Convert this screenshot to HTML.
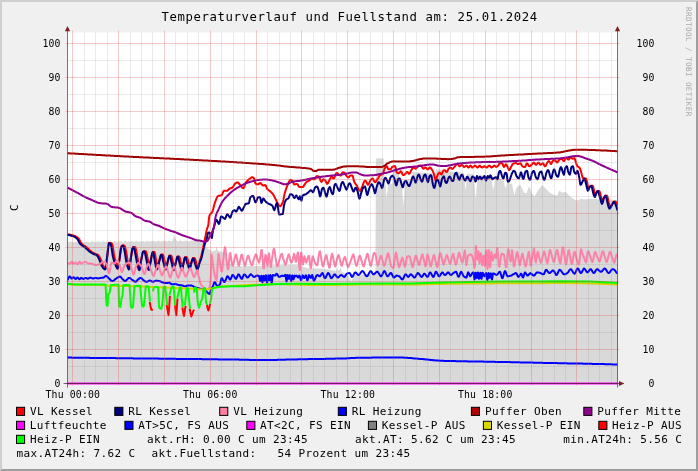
<!DOCTYPE html>
<html lang="de"><head><meta charset="utf-8"><title>Temperaturverlauf und Fuellstand</title>
<style>
html,body{margin:0;padding:0;background:#f0f0f0;}
body{width:698px;height:471px;overflow:hidden;}
svg{display:block;will-change:transform;}
text{font-family:"DejaVu Sans Mono","Liberation Mono",monospace;fill:#000;white-space:pre;}
.t{font-size:12.3px;letter-spacing:0.6px;}
.l{font-size:11px;letter-spacing:0.38px;}
.a{font-size:9.8px;letter-spacing:0.16px;}
.w{font-size:7.6px;letter-spacing:0.42px;fill:#a9a9a9;}
.ln{fill:none;stroke-width:2;stroke-linejoin:round;stroke-linecap:butt;}
</style></head><body>
<svg width="698" height="471" viewBox="0 0 698 471">
<rect x="0" y="0" width="698" height="471" fill="#f0f0f0"/>
<path d="M0 0H698L696 2H2V469L0 471Z" fill="#cfcfcf"/>
<path d="M698 471H0L2 469H696V2L698 0Z" fill="#9e9e9e"/>
<rect x="67" y="32.5" width="551" height="351" fill="#ffffff"/>
<defs><clipPath id="cv"><rect x="67.5" y="32.5" width="550" height="352.5"/></clipPath></defs>
<path d="M67.5 383.5L67.5 242.7L69.0 242.1L70.5 241.3L72.0 242.4L73.5 241.9L75.0 242.1L76.5 241.4L78.0 242.0L79.5 242.6L81.0 241.1L82.5 242.0L84.0 242.0L85.5 241.9L87.0 241.6L88.5 241.4L90.0 242.7L91.5 241.3L93.0 241.5L94.5 242.2L96.0 241.7L97.5 241.8L99.0 241.1L100.5 242.3L102.0 241.8L103.5 240.9L105.0 242.1L106.5 241.6L108.0 241.8L109.5 241.2L111.0 241.7L112.5 242.3L114.0 240.7L115.5 241.8L117.0 241.8L118.5 241.5L120.0 241.4L121.5 241.1L123.0 242.3L124.5 241.0L126.0 241.1L127.5 242.0L129.0 241.3L130.5 241.5L132.0 240.9L133.5 242.0L135.0 241.5L136.5 240.6L138.0 241.9L139.5 241.3L141.0 241.4L142.5 240.9L144.0 241.4L145.5 241.9L147.0 240.4L148.5 241.5L150.0 241.5L151.5 241.1L153.0 241.1L154.5 240.9L156.0 242.0L157.5 240.7L159.0 240.8L160.5 241.7L162.0 241.0L163.5 241.1L165.0 240.6L166.5 241.6L168.0 241.2L169.5 240.3L171.0 241.6L172.5 241.0L174.0 234.4L175.5 238.5L177.0 241.1L178.5 241.6L180.0 240.1L181.5 241.2L183.0 241.3L184.5 240.7L186.0 240.8L187.5 240.6L189.0 241.7L190.5 240.4L192.0 240.5L193.5 241.5L195.0 240.6L196.5 240.8L199.0 241.2L203.0 243.0L207.0 248.0L211.0 250.6L213.0 251.2L215.5 250.6L216.6 246.2L217.8 250.8L220.0 251.4L223.0 252.0L226.0 258.0L229.0 263.0L232.0 265.6L240.0 266.2L250.0 266.0L260.0 265.8L270.0 265.6L285.0 264.8L298.0 264.8L303.0 267.0L310.0 268.4L320.0 268.6L330.0 269.8L335.0 270.8L336.6 270.6L337.4 267.2L338.3 270.4L339.6 269.8L340.6 266.6L341.6 271.6L345.0 273.2L348.8 276.4L350.4 279.0L351.4 281.6L352.4 279.0L353.6 275.4L357.0 274.2L362.0 275.0L366.0 273.8L371.0 274.8L375.4 274.0L375.9 158.4L379.0 158.2L383.7 158.4L384.2 183.5L385.6 184.5L386.0 190.0L386.7 198.5L387.5 190.0L388.0 184.5L392.4 183.6L393.0 168.6L398.6 169.0L399.2 179.0L402.0 181.0L402.6 195.0L403.4 205.5L404.3 194.0L405.0 180.5L411.8 179.0L412.4 172.0L420.0 172.4L428.0 173.0L435.0 173.6L436.0 169.4L441.5 169.8L442.2 171.5L450.0 171.6L455.8 172.0L458.0 171.4L460.0 172.6L464.2 173.2L464.8 183.0L465.5 190.5L466.4 183.0L467.2 173.6L474.2 174.4L474.8 190.0L475.7 198.5L476.6 189.0L477.4 175.0L485.0 176.0L492.0 177.0L492.5 186.0L493.3 189.5L494.2 185.0L495.0 177.6L499.0 178.0L504.0 181.0L504.6 186.0L505.5 188.0L506.6 185.0L507.4 182.6L512.2 184.0L513.4 191.0L514.6 195.6L515.6 190.4L517.0 187.0L520.3 184.4L524.0 192.6L526.3 193.4L529.3 185.9L531.5 192.6L534.6 196.4L537.6 191.1L542.1 185.1L545.1 188.1L549.6 192.6L554.1 194.9L557.1 195.7L559.4 190.4L561.6 192.6L566.1 191.9L569.2 195.7L572.2 197.9L575.2 200.2L578.2 200.2L581.2 198.7L584.2 199.4L590.2 198.7L596.2 199.0L599.2 199.4L605.0 199.6L611.0 199.8L617.5 200.0L617.5 383.5Z" fill="#d9d9d9"/>
<g clip-path="url(#cv)"><path class="ln" d="M67.4 234.4L67.9 234.4L68.4 234.4L68.9 234.4L69.4 234.5L69.9 234.7L70.4 234.8L70.9 234.9L71.4 235.0L71.9 235.2L72.4 235.3L72.9 235.5L73.4 235.6L73.9 235.7L74.4 235.9L74.9 236.0L75.4 236.2L75.9 236.5L76.4 236.8L76.9 237.1L77.4 237.5L77.9 237.9L78.4 238.4L78.9 239.0L79.4 239.7L79.9 240.7L80.4 241.7L80.9 242.6L81.4 243.4L81.9 243.9L82.4 244.4L82.9 244.8L83.4 245.1L83.9 245.5L84.4 245.8L84.9 246.1L85.4 246.4L85.9 246.8L86.4 247.1L86.9 247.6L87.4 248.0L87.9 248.5L88.4 249.0L88.9 249.5L89.4 250.0L89.9 250.4L90.4 250.9L90.9 251.3L91.4 251.6L91.9 252.0L92.4 252.3L92.9 252.6L93.4 252.9L93.9 253.2L94.4 253.5L94.9 253.7L95.4 253.9L95.9 254.1L96.4 254.3L96.9 254.4L97.4 254.6L97.9 254.9L98.4 255.2L98.9 255.8L99.4 256.7L99.9 257.7L100.4 258.7L100.9 259.8L101.4 261.0L101.9 262.5L102.4 263.9L102.9 265.1L103.4 266.1L103.9 266.8L104.4 267.5L104.9 268.1L105.4 268.6L105.9 266.6L106.4 262.8L106.9 258.7L107.4 254.9L107.9 250.1L108.4 245.6L108.9 243.0L109.4 242.9L109.9 243.2L110.4 242.8L110.9 242.9L111.4 243.3L111.9 243.8L112.4 244.7L112.9 247.2L113.4 250.6L113.9 254.0L114.4 256.6L114.9 258.6L115.4 260.4L115.9 262.0L116.4 263.5L116.9 264.7L117.4 265.9L117.9 267.1L118.4 266.5L118.9 263.2L119.4 259.5L119.9 256.1L120.4 252.1L120.9 248.3L121.4 246.5L121.9 245.9L122.4 245.5L122.9 245.4L123.4 245.8L123.9 245.5L124.4 245.4L124.9 246.5L125.4 248.3L125.9 250.4L126.4 253.0L126.9 256.4L127.4 259.7L127.9 262.3L128.4 264.2L128.9 266.1L129.4 267.6L129.9 265.4L130.4 261.3L130.9 257.5L131.4 254.3L131.9 251.1L132.4 248.6L132.9 247.6L133.4 247.0L133.9 247.1L134.4 247.5L134.9 247.0L135.4 247.3L135.9 249.3L136.4 252.0L136.9 254.4L137.4 257.2L137.9 260.2L138.4 262.9L138.9 265.0L139.4 266.8L139.9 268.5L140.4 265.4L140.9 261.9L141.4 259.0L141.9 256.2L142.4 253.5L142.9 251.9L143.4 251.5L143.9 251.2L144.4 251.2L144.9 251.4L145.4 251.2L145.9 251.4L146.4 252.7L146.9 255.0L147.4 257.5L147.9 259.8L148.4 262.4L148.9 265.3L149.4 267.9L149.9 265.7L150.4 262.6L150.9 259.8L151.4 257.4L151.9 254.8L152.4 252.7L152.9 251.8L153.4 252.9L153.9 252.4L154.4 251.9L154.9 253.3L155.4 256.1L155.9 259.1L156.4 261.7L156.9 264.5L157.4 267.2L157.9 266.7L158.4 264.6L158.9 262.5L159.4 260.7L159.9 258.6L160.4 256.5L160.9 254.8L161.4 254.5L161.9 255.5L162.4 254.6L162.9 254.6L163.4 255.9L163.9 258.0L164.4 260.3L164.9 262.3L165.4 264.1L165.9 266.1L166.4 267.9L166.9 265.5L167.4 262.9L167.9 260.8L168.4 258.8L168.9 256.9L169.4 255.6L169.9 255.6L170.4 256.5L170.9 255.5L171.4 255.8L171.9 257.4L172.4 259.7L172.9 261.9L173.4 263.9L173.9 266.1L174.4 268.2L174.9 266.5L175.4 264.1L175.9 262.1L176.4 259.9L176.9 257.9L177.4 256.5L177.9 256.5L178.4 257.5L178.9 256.4L179.4 256.7L179.9 258.3L180.4 260.5L180.9 262.7L181.4 264.4L181.9 266.4L182.4 268.2L182.9 266.3L183.4 263.6L183.9 261.4L184.4 258.9L184.9 257.2L185.4 257.2L185.9 258.2L186.4 257.1L186.9 257.3L187.4 258.5L187.9 260.2L188.4 262.1L188.9 263.6L189.4 265.0L189.9 266.6L190.4 266.7L190.9 264.4L191.4 262.5L191.9 260.8L192.4 259.2L192.9 258.1L193.4 258.2L193.9 258.9L194.4 258.1L194.9 258.4L195.4 259.8L195.9 261.7L196.4 263.5L196.9 265.0L197.4 270.1L197.9 269.1L198.4 266.9L198.9 264.2L199.4 262.1L199.9 260.4L200.4 258.8L200.9 257.2L201.4 255.4L201.9 253.3L202.4 251.1L202.9 248.9L203.4 246.5L203.9 244.0L204.4 241.5L204.9 238.9L205.4 236.5L205.9 234.0L206.4 231.6L206.9 229.4L207.4 227.8L207.9 226.6L208.4 224.6L208.9 218.9L209.4 215.9L209.9 214.8L210.4 214.0L210.9 213.5L211.4 213.0L211.9 212.3L212.4 211.4L212.9 210.0L213.4 208.2L213.9 206.2L214.4 204.2L214.9 202.6L215.4 201.3L215.9 200.0L216.4 198.7L216.9 197.6L217.4 196.7L217.9 196.1L218.4 195.9L218.9 195.8L219.4 195.7L219.9 195.6L220.4 195.6L220.9 195.5L221.4 195.3L221.9 194.8L222.4 193.7L222.9 192.5L223.4 191.4L223.9 190.8L224.4 190.8L224.9 190.8L225.4 190.8L225.9 190.8L226.4 190.8L226.9 190.8L227.4 190.8L227.9 190.3L228.4 189.7L228.9 189.1L229.4 188.7L229.9 188.5L230.4 188.3L230.9 188.2L231.4 188.0L231.9 187.8L232.4 187.6L232.9 187.0L233.4 186.2L233.9 185.3L234.4 184.4L234.9 183.8L235.4 183.4L235.9 183.0L236.4 182.7L236.9 182.5L237.4 182.4L237.9 182.5L238.4 182.9L238.9 183.5L239.4 184.1L239.9 184.7L240.4 185.3L240.9 185.9L241.4 186.6L241.9 187.2L242.4 187.7L242.9 188.1L243.4 188.2L243.9 187.7L244.4 186.5L244.9 185.0L245.4 183.5L245.9 182.5L246.4 181.8L246.9 181.2L247.4 180.7L247.9 180.2L248.4 179.8L248.9 179.4L249.4 179.0L249.9 178.6L250.4 178.2L250.9 177.8L251.4 177.5L251.9 177.3L252.4 177.2L252.9 177.4L253.4 177.7L253.9 178.3L254.4 179.9L254.9 182.0L255.4 183.5L255.9 183.8L256.4 184.0L256.9 184.2L257.4 184.3L257.9 184.3L258.4 184.3L258.9 183.9L259.4 183.4L259.9 183.1L260.4 183.1L260.9 183.4L261.4 184.0L261.9 184.5L262.4 185.1L262.9 185.5L263.4 185.6L263.9 185.5L264.4 185.3L264.9 185.0L265.4 185.0L265.9 185.8L266.4 187.1L266.9 188.3L267.4 189.1L267.9 189.6L268.4 190.0L268.9 190.4L269.4 190.7L269.9 191.1L270.4 191.5L270.9 191.9L271.4 192.4L271.9 193.0L272.4 193.6L272.9 194.2L273.4 194.9L273.9 195.7L274.4 196.7L274.9 197.7L275.4 198.8L275.9 199.8L276.4 200.8L276.9 201.7L277.4 202.7L277.9 203.7L278.4 204.6L278.9 205.4L279.4 205.9L279.9 206.2L280.4 206.2L280.9 205.8L281.4 205.0L281.9 204.1L282.4 203.0L282.9 201.8L283.4 199.7L283.9 197.1L284.4 194.6L284.9 192.7L285.4 191.0L285.9 189.4L286.4 187.9L286.9 186.6L287.4 185.4L287.9 184.2L288.4 183.0L288.9 181.9L289.4 180.9L289.9 180.3L290.4 180.0L290.9 180.0L291.4 180.2L291.9 180.4L292.4 180.6L292.9 181.4L293.4 182.8L293.9 184.0L294.4 184.5L294.9 184.4L295.4 184.3L295.9 184.1L296.4 183.9L296.9 183.9L297.4 184.1L297.9 184.9L298.4 185.8L298.9 186.6L299.4 187.1L299.9 187.1L300.4 187.1L300.9 187.1L301.4 187.1L301.9 187.1L302.4 187.1L302.9 187.0L303.4 186.6L303.9 185.7L304.4 184.9L304.9 184.2L305.4 183.4L305.9 182.7L306.4 182.1L306.9 181.7L307.4 181.4L307.9 181.2L308.4 181.0L308.9 180.8L309.4 180.5L309.9 180.0L310.4 179.5L310.9 179.1L311.4 178.8L311.9 178.7L312.4 178.8L312.9 179.0L313.4 179.2L313.9 179.3L314.4 179.3L314.9 178.9L315.4 178.1L315.9 177.2L316.4 176.4L316.9 176.1L317.4 176.2L317.9 176.3L318.4 176.5L318.9 176.8L319.4 177.6L319.9 178.9L320.4 180.3L320.9 181.4L321.4 181.9L321.9 181.5L322.4 180.6L322.9 179.7L323.4 179.3L323.9 179.5L324.4 179.8L324.9 180.3L325.4 180.8L325.9 181.7L326.4 182.8L326.9 183.7L327.4 183.8L327.9 183.3L328.4 182.3L328.9 181.2L329.4 180.1L329.9 179.2L330.4 178.3L330.9 177.5L331.4 176.9L331.9 176.8L332.4 177.3L332.9 178.0L333.4 178.6L333.9 178.5L334.4 177.5L334.9 175.9L335.4 174.5L335.9 173.8L336.4 173.2L336.9 172.9L337.4 173.2L337.9 173.8L338.4 174.5L338.9 174.9L339.4 175.1L339.9 175.3L340.4 175.4L340.9 175.4L341.4 174.6L341.9 173.4L342.4 172.4L342.9 172.3L343.4 172.4L343.9 172.5L344.4 172.8L344.9 173.1L345.4 174.0L345.9 175.1L346.4 175.9L346.9 176.4L347.4 176.9L347.9 177.2L348.4 177.4L348.9 177.2L349.4 176.5L349.9 175.8L350.4 175.5L350.9 175.5L351.4 175.5L351.9 175.5L352.4 175.5L352.9 176.5L353.4 178.5L353.9 180.7L354.4 182.1L354.9 183.0L355.4 183.7L355.9 184.4L356.4 185.0L356.9 185.8L357.4 186.8L357.9 187.9L358.4 189.0L358.9 189.8L359.4 190.4L359.9 190.9L360.4 190.8L360.9 189.9L361.4 188.6L361.9 187.4L362.4 186.2L362.9 184.8L363.4 183.4L363.9 182.1L364.4 181.1L364.9 180.6L365.4 180.8L365.9 181.3L366.4 182.0L366.9 182.8L367.4 184.1L367.9 184.8L368.4 184.5L368.9 183.6L369.4 182.5L369.9 181.3L370.4 180.4L370.9 179.7L371.4 179.1L371.9 178.6L372.4 178.4L372.9 178.7L373.4 179.6L373.9 180.8L374.4 181.7L374.9 182.2L375.4 182.1L375.9 181.6L376.4 180.9L376.9 180.0L377.4 179.2L377.9 178.5L378.4 177.7L378.9 176.8L379.4 176.0L379.9 175.4L380.4 175.0L380.9 174.7L381.4 174.5L381.9 174.4L382.4 174.1L382.9 173.6L383.4 172.4L383.9 170.8L384.4 169.3L384.9 168.3L385.4 167.3L385.9 166.6L386.4 166.2L386.9 166.3L387.4 167.3L387.9 168.6L388.4 169.3L388.9 169.3L389.4 169.3L389.9 169.3L390.4 169.3L390.9 169.0L391.4 168.2L391.9 167.3L392.4 166.8L392.9 166.6L393.4 166.4L393.9 166.2L394.4 166.2L394.9 166.1L395.4 166.9L395.9 169.0L396.4 171.3L396.9 172.6L397.4 172.8L397.9 173.0L398.4 173.2L398.9 173.2L399.4 172.8L399.9 172.1L400.4 171.5L400.9 171.3L401.4 171.8L401.9 172.8L402.4 174.0L402.9 174.8L403.4 175.1L403.9 175.0L404.4 174.6L404.9 174.2L405.4 173.8L405.9 173.2L406.4 172.5L406.9 172.0L407.4 172.0L407.9 172.5L408.4 173.2L408.9 173.8L409.4 173.8L409.9 173.1L410.4 172.1L410.9 170.9L411.4 169.9L411.9 169.1L412.4 168.5L412.9 167.8L413.4 167.5L413.9 167.5L414.4 167.8L414.9 168.3L415.4 168.7L415.9 168.6L416.4 168.2L416.9 167.5L417.4 166.8L417.9 166.3L418.4 166.0L418.9 165.8L419.4 165.7L419.9 165.6L420.4 165.5L420.9 165.5L421.4 166.0L421.9 166.8L422.4 167.7L422.9 168.4L423.4 168.7L423.9 168.4L424.4 168.0L424.9 167.5L425.4 167.4L425.9 167.7L426.4 168.2L426.9 168.7L427.4 169.2L427.9 169.3L428.4 169.0L428.9 168.3L429.4 167.6L429.9 167.4L430.4 167.7L430.9 168.2L431.4 168.9L431.9 169.6L432.4 170.4L432.9 171.4L433.4 172.6L433.9 174.0L434.4 176.3L434.9 178.7L435.4 180.2L435.9 180.0L436.4 178.7L436.9 176.9L437.4 175.4L437.9 174.5L438.4 173.6L438.9 172.9L439.4 172.6L439.9 172.8L440.4 173.5L440.9 174.2L441.4 174.5L441.9 173.9L442.4 172.6L442.9 171.3L443.4 170.6L443.9 170.3L444.4 170.2L444.9 170.2L445.4 170.8L445.9 171.5L446.4 172.0L446.9 171.9L447.4 171.1L447.9 169.9L448.4 169.0L448.9 168.5L449.4 168.1L449.9 167.7L450.4 167.6L450.9 167.7L451.4 168.2L451.9 168.6L452.4 168.9L452.9 168.6L453.4 168.1L453.9 167.4L454.4 166.9L454.9 166.3L455.4 165.6L455.9 165.0L456.4 164.4L456.9 163.9L457.4 163.7L457.9 163.9L458.4 164.7L458.9 165.7L459.4 166.3L459.9 166.2L460.4 165.9L460.9 165.5L461.4 165.2L461.9 165.0L462.4 165.1L462.9 165.7L463.4 166.5L463.9 166.9L464.4 166.8L464.9 166.6L465.4 166.2L465.9 165.9L466.4 165.7L466.9 165.8L467.4 166.4L467.9 167.1L468.4 167.5L468.9 167.4L469.4 166.7L469.9 166.0L470.4 165.6L470.9 165.9L471.4 166.6L471.9 167.3L472.4 167.6L472.9 167.4L473.4 166.9L473.9 166.4L474.4 165.9L474.9 165.6L475.4 165.8L475.9 166.2L476.4 166.8L476.9 167.3L477.4 167.5L477.9 167.4L478.4 166.8L478.9 166.1L479.4 165.6L479.9 165.8L480.4 166.2L480.9 166.7L481.4 167.2L481.9 167.5L482.4 167.5L482.9 167.2L483.4 166.9L483.9 166.5L484.4 166.3L484.9 166.3L485.4 166.7L485.9 167.2L486.4 167.5L486.9 167.5L487.4 167.1L487.9 166.6L488.4 166.0L488.9 165.7L489.4 165.7L489.9 166.0L490.4 166.5L490.9 167.1L491.4 167.5L491.9 167.5L492.4 167.2L492.9 166.7L493.4 166.2L493.9 165.8L494.4 165.6L494.9 165.9L495.4 166.4L495.9 166.8L496.4 166.9L496.9 166.7L497.4 166.4L497.9 165.9L498.4 165.4L498.9 164.4L499.4 163.7L499.9 163.5L500.4 163.3L500.9 163.2L501.4 163.1L501.9 163.1L502.4 163.4L502.9 164.6L503.4 166.1L503.9 166.9L504.4 166.6L504.9 165.7L505.4 164.8L505.9 164.3L506.4 164.7L506.9 165.5L507.4 166.6L507.9 167.7L508.4 168.9L508.9 170.0L509.4 170.0L509.9 169.3L510.4 168.3L510.9 167.2L511.4 166.3L511.9 165.3L512.4 164.4L512.9 163.8L513.4 163.5L513.9 163.3L514.4 163.2L514.9 163.1L515.4 163.1L515.9 163.1L516.4 163.3L516.9 163.6L517.4 163.9L517.9 164.1L518.4 164.0L518.9 163.8L519.4 163.6L519.9 163.4L520.4 163.3L520.9 163.8L521.4 164.7L521.9 165.6L522.4 166.2L522.9 166.5L523.4 166.8L523.9 166.9L524.4 167.0L524.9 167.0L525.4 166.4L525.9 165.2L526.4 164.0L526.9 163.4L527.4 163.5L527.9 164.3L528.4 165.3L528.9 166.1L529.4 166.3L529.9 166.2L530.4 165.8L530.9 165.4L531.4 164.9L531.9 164.5L532.4 163.8L532.9 163.2L533.4 162.7L533.9 162.6L534.4 163.0L534.9 163.6L535.4 164.4L535.9 164.8L536.4 164.7L536.9 164.1L537.4 163.4L537.9 162.8L538.4 162.6L538.9 162.9L539.4 163.6L539.9 164.3L540.4 164.8L540.9 164.7L541.4 164.4L541.9 163.9L542.4 163.5L542.9 163.3L543.4 163.8L543.9 164.7L544.4 165.7L544.9 166.3L545.4 166.2L545.9 165.4L546.4 164.4L546.9 163.3L547.4 162.5L547.9 161.8L548.4 161.3L548.9 161.1L549.4 161.5L549.9 162.4L550.4 163.4L550.9 164.0L551.4 163.8L551.9 162.5L552.4 161.3L552.9 160.9L553.4 160.6L553.9 160.5L554.4 160.3L554.9 160.3L555.4 160.6L555.9 161.3L556.4 162.0L556.9 162.5L557.4 162.5L557.9 161.8L558.4 160.9L558.9 160.1L559.4 159.5L559.9 159.3L560.4 159.1L560.9 158.9L561.4 158.8L561.9 158.9L562.4 159.4L562.9 160.1L563.4 160.8L563.9 161.1L564.4 160.7L564.9 159.8L565.4 158.8L565.9 158.2L566.4 158.1L566.9 158.4L567.4 158.9L567.9 159.4L568.4 159.6L568.9 159.3L569.4 158.6L569.9 157.9L570.4 157.4L570.9 157.3L571.4 157.7L571.9 158.2L572.4 158.6L572.9 158.8L573.4 158.6L573.9 158.3L574.4 158.1L574.9 158.9L575.4 160.7L575.9 162.5L576.4 163.9L576.9 165.3L577.4 166.3L577.9 166.7L578.4 167.0L578.9 167.2L579.4 167.6L579.9 168.2L580.4 169.6L580.9 171.3L581.4 173.1L581.9 175.1L582.4 176.9L582.9 178.0L583.4 178.8L583.9 178.8L584.4 178.4L584.9 178.6L585.4 178.6L585.9 178.5L586.4 179.6L586.9 181.8L587.4 184.0L587.9 186.1L588.4 188.3L588.9 188.6L589.4 187.3L589.9 186.6L590.4 186.1L590.9 185.7L591.4 185.8L591.9 186.0L592.4 185.7L592.9 185.9L593.4 187.7L593.9 190.1L594.4 192.2L594.9 194.2L595.4 195.0L595.9 194.3L596.4 192.7L596.9 191.7L597.4 191.0L597.9 190.9L598.4 191.1L598.9 190.9L599.4 191.0L599.9 192.3L600.4 194.1L600.9 196.1L601.4 197.8L601.9 199.7L602.4 201.6L602.9 201.7L603.4 199.3L603.9 197.8L604.4 196.8L604.9 195.9L605.4 195.6L605.9 195.7L606.4 195.8L606.9 195.6L607.4 196.5L607.9 198.5L608.4 200.9L608.9 203.0L609.4 204.9L609.9 206.9L610.4 207.5L610.9 206.5L611.4 205.6L611.9 204.8L612.4 203.9L612.9 202.9L613.4 202.0L613.9 201.6L614.4 201.7L614.9 201.9L615.4 201.6L615.9 201.9L616.4 203.0L616.9 204.3L617.2 205.1" stroke="#ff0000" stroke-width="2"/><path class="ln" d="M67.4 234.7L67.9 234.8L68.4 234.9L68.9 235.0L69.4 235.1L69.9 235.3L70.4 235.4L70.9 235.5L71.4 235.7L71.9 235.8L72.4 236.0L72.9 236.1L73.4 236.3L73.9 236.5L74.4 236.7L74.9 237.0L75.4 237.3L75.9 237.7L76.4 238.1L76.9 238.6L77.4 239.1L77.9 239.8L78.4 240.7L78.9 241.8L79.4 242.7L79.9 243.5L80.4 244.1L80.9 244.5L81.4 245.0L81.9 245.3L82.4 245.7L82.9 246.0L83.4 246.3L83.9 246.6L84.4 247.0L84.9 247.3L85.4 247.7L85.9 248.2L86.4 248.7L86.9 249.1L87.4 249.6L87.9 250.1L88.4 250.6L88.9 251.0L89.4 251.5L89.9 251.8L90.4 252.2L90.9 252.5L91.4 252.8L91.9 253.1L92.4 253.4L92.9 253.7L93.4 253.9L93.9 254.2L94.4 254.3L94.9 254.5L95.4 254.6L95.9 254.8L96.4 255.1L96.9 255.4L97.4 255.9L97.9 256.8L98.4 257.7L98.9 258.8L99.4 259.9L99.9 261.1L100.4 262.5L100.9 263.9L101.4 265.2L101.9 266.2L102.4 266.9L102.9 267.6L103.4 268.3L103.9 268.8L104.4 269.2L104.9 269.4L105.4 269.2L105.9 266.8L106.4 262.9L106.9 258.8L107.4 255.0L107.9 250.2L108.4 245.8L108.9 243.2L109.4 243.1L109.9 243.4L110.4 243.9L110.9 244.7L111.4 246.9L111.9 250.3L112.4 253.7L112.9 256.5L113.4 258.5L113.9 260.4L114.4 262.0L114.9 263.5L115.4 264.8L115.9 265.9L116.4 267.1L116.9 268.1L117.4 268.7L117.9 268.6L118.4 266.6L118.9 263.3L119.4 259.6L119.9 256.2L120.4 252.2L120.9 248.5L121.4 246.8L121.9 246.2L122.4 245.8L122.9 245.6L123.4 246.5L123.9 248.2L124.4 250.3L124.9 252.7L125.4 256.0L125.9 259.5L126.4 262.2L126.9 264.1L127.4 266.0L127.9 267.7L128.4 268.9L128.9 269.5L129.4 268.7L129.9 265.6L130.4 261.4L130.9 257.6L131.4 254.5L131.9 251.3L132.4 248.8L132.9 247.8L133.4 247.3L133.9 247.4L134.4 249.2L134.9 251.8L135.4 254.2L135.9 257.0L136.4 259.9L136.9 262.7L137.4 264.9L137.9 266.7L138.4 268.5L138.9 269.7L139.4 270.1L139.9 268.6L140.4 265.6L140.9 262.1L141.4 259.2L141.9 256.3L142.4 253.7L142.9 252.1L143.4 251.7L143.9 251.5L144.4 251.5L144.9 252.7L145.4 254.8L145.9 257.3L146.4 259.7L146.9 262.1L147.4 265.1L147.9 267.8L148.4 269.7L148.9 270.0L149.4 268.5L149.9 265.8L150.4 262.7L150.9 260.0L151.4 257.6L151.9 255.0L152.4 252.9L152.9 252.1L153.4 253.2L153.9 255.8L154.4 258.9L154.9 261.5L155.4 264.2L155.9 267.0L156.4 269.0L156.9 269.4L157.4 268.6L157.9 266.9L158.4 264.8L158.9 262.7L159.4 260.8L159.9 258.8L160.4 256.6L160.9 255.1L161.4 254.7L161.9 255.8L162.4 257.8L162.9 260.2L163.4 262.2L163.9 264.0L164.4 266.1L164.9 267.9L165.4 269.2L165.9 269.4L166.4 268.1L166.9 265.6L167.4 263.0L167.9 261.0L168.4 259.0L168.9 257.1L169.4 255.9L169.9 255.9L170.4 257.3L170.9 259.5L171.4 261.8L171.9 263.8L172.4 266.0L172.9 268.2L173.4 269.7L173.9 270.1L174.4 268.8L174.9 266.6L175.4 264.2L175.9 262.3L176.4 260.1L176.9 258.1L177.4 256.8L177.9 256.8L178.4 258.2L178.9 260.4L179.4 262.6L179.9 264.4L180.4 266.3L180.9 268.1L181.4 269.6L181.9 270.1L182.4 269.0L182.9 266.5L183.4 263.8L183.9 261.5L184.4 259.1L184.9 257.4L185.4 257.4L185.9 258.5L186.4 260.2L186.9 262.0L187.4 263.6L187.9 265.0L188.4 266.6L188.9 267.9L189.4 268.7L189.9 268.5L190.4 266.8L190.9 264.6L191.4 262.7L191.9 261.0L192.4 259.4L192.9 258.4L193.4 258.5L193.9 259.8L194.4 261.6L194.9 263.5L195.4 265.0L195.9 266.5L196.4 268.0L196.9 269.1L197.4 269.5L197.9 268.7L198.4 267.0L198.9 265.0L199.4 263.4L199.9 262.2L200.4 261.0L200.9 259.7L201.4 258.2L201.9 256.3L202.4 254.1L202.9 251.9L203.4 249.8L203.9 247.7L204.4 245.6L204.9 243.7L205.4 242.2L205.9 241.0L206.4 239.8L206.9 238.4L207.4 235.6L207.9 233.1L208.4 232.7L208.9 232.5L209.4 232.6L209.9 233.1L210.4 233.9L210.9 235.4L211.4 237.6L211.9 237.9L212.4 234.1L212.9 231.2L213.4 229.1L213.9 227.2L214.4 225.5L214.9 223.7L215.4 221.9L215.9 220.5L216.4 219.8L216.9 220.2L217.4 221.2L217.9 222.2L218.4 223.2L218.9 224.0L219.4 223.3L219.9 221.0L220.4 218.9L220.9 216.8L221.4 216.4L221.9 216.6L222.4 217.0L222.9 217.4L223.4 217.8L223.9 218.2L224.4 218.6L224.9 218.9L225.4 218.5L225.9 217.0L226.4 215.7L226.9 214.5L227.4 214.2L227.9 214.8L228.4 215.5L228.9 216.2L229.4 216.9L229.9 217.5L230.4 217.5L230.9 216.3L231.4 214.8L231.9 213.3L232.4 211.9L232.9 211.1L233.4 210.7L233.9 210.4L234.4 210.3L234.9 210.5L235.4 211.0L235.9 211.5L236.4 211.5L236.9 210.7L237.4 209.6L237.9 208.5L238.4 207.3L238.9 206.9L239.4 207.3L239.9 208.1L240.4 208.9L240.9 209.7L241.4 210.5L241.9 210.7L242.4 210.3L242.9 209.3L243.4 208.1L243.9 207.1L244.4 206.1L244.9 204.9L245.4 204.1L245.9 203.8L246.4 203.7L246.9 203.7L247.4 203.6L247.9 203.6L248.4 203.5L248.9 203.2L249.4 201.3L249.9 198.8L250.4 197.3L250.9 196.8L251.4 196.5L251.9 196.2L252.4 196.0L252.9 195.9L253.4 196.3L253.9 197.7L254.4 199.6L254.9 201.3L255.4 202.3L255.9 202.2L256.4 201.2L256.9 199.7L257.4 198.3L257.9 197.4L258.4 197.2L258.9 197.2L259.4 197.2L259.9 197.2L260.4 198.0L260.9 201.2L261.4 203.0L261.9 202.3L262.4 200.6L262.9 199.1L263.4 198.5L263.9 199.0L264.4 199.8L264.9 200.6L265.4 201.2L265.9 201.7L266.4 202.2L266.9 202.6L267.4 203.0L267.9 203.3L268.4 203.6L268.9 203.9L269.4 204.1L269.9 204.3L270.4 204.5L270.9 204.7L271.4 205.0L271.9 205.3L272.4 205.7L272.9 206.8L273.4 208.4L273.9 209.7L274.4 210.1L274.9 209.1L275.4 207.3L275.9 205.3L276.4 203.6L276.9 203.0L277.4 204.3L277.9 207.2L278.4 210.5L278.9 213.3L279.4 214.6L279.9 214.6L280.4 214.4L280.9 214.3L281.4 214.1L281.9 214.0L282.4 214.1L282.9 213.8L283.4 210.0L283.9 205.7L284.4 203.7L284.9 202.1L285.4 200.9L285.9 200.0L286.4 199.5L286.9 199.2L287.4 198.9L287.9 198.6L288.4 198.2L288.9 197.4L289.4 196.1L289.9 194.8L290.4 194.2L290.9 194.2L291.4 194.3L291.9 194.6L292.4 194.8L292.9 195.5L293.4 196.7L293.9 197.7L294.4 198.0L294.9 197.5L295.4 196.5L295.9 195.7L296.4 195.5L296.9 196.1L297.4 197.1L297.9 198.2L298.4 199.0L298.9 199.3L299.4 198.0L299.9 196.4L300.4 196.6L300.9 199.0L301.4 200.6L301.9 199.1L302.4 196.3L302.9 195.3L303.4 195.0L303.9 194.8L304.4 194.7L304.9 194.5L305.4 194.4L305.9 194.2L306.4 193.9L306.9 193.5L307.4 193.1L307.9 192.7L308.4 192.3L308.9 191.9L309.4 191.4L309.9 190.9L310.4 190.5L310.9 190.3L311.4 190.4L311.9 191.0L312.4 191.8L312.9 192.2L313.4 191.8L313.9 190.5L314.4 188.9L314.9 187.8L315.4 187.3L315.9 186.8L316.4 186.5L316.9 186.4L317.4 186.9L317.9 188.0L318.4 189.6L318.9 191.2L319.4 193.9L319.9 196.4L320.4 196.3L320.9 194.2L321.4 191.5L321.9 189.3L322.4 188.5L322.9 187.9L323.4 187.7L323.9 188.6L324.4 190.3L324.9 192.3L325.4 193.9L325.9 195.5L326.4 196.7L326.9 196.2L327.4 194.1L327.9 191.4L328.4 189.2L328.9 188.2L329.4 187.3L329.9 187.1L330.4 188.3L330.9 190.2L331.4 192.1L331.9 193.1L332.4 193.8L332.9 194.2L333.4 192.5L333.9 188.1L334.4 185.5L334.9 184.5L335.4 183.9L335.9 184.0L336.4 185.0L336.9 186.3L337.4 187.5L337.9 188.5L338.4 189.6L338.9 190.5L339.4 190.9L339.9 190.2L340.4 188.0L340.9 185.5L341.4 183.8L341.9 182.8L342.4 182.1L342.9 182.0L343.4 182.8L343.9 184.0L344.4 185.3L344.9 186.4L345.4 187.7L345.9 188.9L346.4 189.6L346.9 189.3L347.4 187.8L347.9 186.0L348.4 184.6L348.9 183.9L349.4 183.4L349.9 183.3L350.4 184.0L350.9 185.4L351.4 187.0L351.9 188.2L352.4 189.5L352.9 190.7L353.4 191.5L353.9 191.4L354.4 190.3L354.9 188.8L355.4 187.8L355.9 187.9L356.4 188.5L356.9 189.5L357.4 190.7L357.9 192.4L358.4 195.0L358.9 197.5L359.4 198.7L359.9 198.0L360.4 196.2L360.9 193.9L361.4 192.2L361.9 190.8L362.4 189.4L362.9 188.3L363.4 187.6L363.9 187.1L364.4 186.6L364.9 186.4L365.4 187.5L365.9 189.8L366.4 192.2L366.9 194.5L367.4 195.0L367.9 193.7L368.4 191.6L368.9 189.5L369.4 188.1L369.9 186.9L370.4 185.8L370.9 184.9L371.4 184.3L371.9 184.2L372.4 185.0L372.9 186.3L373.4 187.8L373.9 189.5L374.4 191.7L374.9 193.2L375.4 192.5L375.9 190.5L376.4 188.0L376.9 186.1L377.4 184.8L377.9 183.5L378.4 182.5L378.9 182.2L379.4 182.6L379.9 183.2L380.4 184.1L380.9 185.1L381.4 186.7L381.9 187.9L382.4 187.5L382.9 185.5L383.4 182.8L383.9 180.6L384.4 179.2L384.9 178.1L385.4 177.7L385.9 178.2L386.4 179.2L386.9 180.3L387.4 181.3L387.9 182.6L388.4 183.5L388.9 183.0L389.4 181.3L389.9 179.3L390.4 177.8L390.9 177.0L391.4 176.4L391.9 175.9L392.4 175.8L392.9 176.0L393.4 176.7L393.9 177.6L394.4 178.6L394.9 180.5L395.4 183.0L395.9 185.0L396.4 185.4L396.9 183.9L397.4 181.5L397.9 179.5L398.4 178.8L398.9 178.5L399.4 178.4L399.9 178.8L400.4 180.1L400.9 181.9L401.4 183.5L401.9 185.3L402.4 187.0L402.9 187.2L403.4 185.8L403.9 183.7L404.4 182.0L404.9 181.4L405.4 181.1L405.9 180.9L406.4 181.4L406.9 182.6L407.4 183.9L407.9 184.9L408.4 185.6L408.9 186.0L409.4 186.0L409.9 185.0L410.4 183.6L410.9 182.1L411.4 180.6L411.9 178.9L412.4 177.3L412.9 176.5L413.4 176.7L413.9 177.8L414.4 179.3L414.9 180.8L415.4 182.6L415.9 182.5L416.4 180.8L416.9 178.6L417.4 176.7L417.9 175.6L418.4 174.8L418.9 174.5L419.4 175.4L419.9 177.1L420.4 178.8L420.9 180.0L421.4 180.9L421.9 181.6L422.4 181.1L422.9 179.4L423.4 177.4L423.9 175.9L424.4 175.2L424.9 174.6L425.4 174.6L425.9 175.6L426.4 177.4L426.9 179.3L427.4 181.1L427.9 182.2L428.4 181.0L428.9 178.7L429.4 176.6L429.9 175.7L430.4 175.3L430.9 175.2L431.4 175.8L431.9 178.4L432.4 181.7L432.9 184.5L433.4 186.2L433.9 187.6L434.4 188.0L434.9 186.5L435.4 184.1L435.9 181.8L436.4 180.7L436.9 180.0L437.4 179.7L437.9 179.9L438.4 181.0L438.9 182.4L439.4 184.0L439.9 186.4L440.4 186.3L440.9 184.2L441.4 181.5L441.9 179.3L442.4 178.3L442.9 177.4L443.4 176.7L443.9 176.4L444.4 177.6L444.9 180.3L445.4 181.9L445.9 182.6L446.4 183.0L446.9 182.7L447.4 181.4L447.9 179.5L448.4 178.1L448.9 177.3L449.4 176.8L449.9 176.6L450.4 177.3L450.9 178.7L451.4 180.0L451.9 180.6L452.4 180.9L452.9 181.1L453.4 180.5L453.9 178.4L454.4 175.9L454.9 174.1L455.4 173.4L455.9 172.9L456.4 172.8L456.9 173.8L457.4 175.5L457.9 177.2L458.4 178.3L458.9 179.3L459.4 179.8L459.9 179.0L460.4 177.0L460.9 175.8L461.4 175.1L461.9 174.7L462.4 175.0L462.9 176.2L463.4 177.8L463.9 179.0L464.4 179.7L464.9 180.3L465.4 180.4L465.9 179.5L466.4 178.1L466.9 176.9L467.4 176.7L467.9 177.4L468.4 178.4L468.9 179.2L469.4 180.0L469.9 180.8L470.4 181.1L470.9 180.5L471.4 178.9L471.9 177.3L472.4 176.6L472.9 176.7L473.4 177.0L473.9 177.4L474.4 178.0L474.9 179.8L475.4 181.5L475.9 181.0L476.4 177.8L476.9 175.9L477.4 177.1L477.9 178.8L478.4 179.1L478.9 178.4L479.4 177.4L479.9 176.7L480.4 176.9L480.9 178.3L481.4 179.2L481.9 178.9L482.4 178.4L482.9 177.7L483.4 177.2L483.9 176.5L484.4 176.0L484.9 176.5L485.4 178.9L485.9 180.5L486.4 179.8L486.9 178.1L487.4 176.6L487.9 176.0L488.4 176.7L488.9 177.7L489.4 177.6L489.9 176.2L490.4 175.3L490.9 175.9L491.4 177.2L491.9 178.6L492.4 179.2L492.9 179.0L493.4 178.6L493.9 178.1L494.4 177.8L494.9 177.6L495.4 177.4L495.9 177.3L496.4 177.3L496.9 178.3L497.4 179.1L497.9 178.0L498.4 174.7L498.9 172.5L499.4 171.5L499.9 170.9L500.4 171.0L500.9 172.3L501.4 174.0L501.9 175.6L502.4 176.9L502.9 178.1L503.4 178.5L503.9 177.3L504.4 175.1L504.9 173.2L505.4 172.7L505.9 172.9L506.4 173.2L506.9 175.1L507.4 179.6L507.9 181.7L508.4 181.6L508.9 181.3L509.4 180.7L509.9 179.5L510.4 178.0L510.9 176.4L511.4 175.0L511.9 173.7L512.4 172.6L512.9 171.6L513.4 170.9L513.9 170.8L514.4 171.1L514.9 171.5L515.4 172.5L515.9 174.4L516.4 175.9L516.9 176.7L517.4 177.4L517.9 178.0L518.4 178.3L518.9 178.3L519.4 177.1L519.9 175.2L520.4 173.4L520.9 172.4L521.4 172.9L521.9 174.7L522.4 176.9L522.9 178.7L523.4 179.0L523.9 177.7L524.4 175.5L524.9 173.2L525.4 171.7L525.9 171.3L526.4 171.0L526.9 170.8L527.4 171.8L527.9 174.6L528.4 177.2L528.9 178.4L529.4 179.4L529.9 179.8L530.4 179.4L530.9 177.7L531.4 175.4L531.9 173.3L532.4 172.2L532.9 171.5L533.4 171.0L533.9 170.9L534.4 171.9L534.9 173.7L535.4 175.8L535.9 177.3L536.4 178.1L536.9 178.7L537.4 179.1L537.9 178.7L538.4 177.1L538.9 175.0L539.4 173.1L539.9 172.3L540.4 171.9L540.9 171.7L541.4 171.6L541.9 172.7L542.4 174.8L542.9 177.1L543.4 178.8L543.9 179.6L544.4 179.8L544.9 178.8L545.4 176.9L545.9 174.6L546.4 172.8L546.9 171.7L547.4 170.7L547.9 170.1L548.4 170.4L548.9 171.7L549.4 173.6L549.9 175.5L550.4 177.0L550.9 178.2L551.4 178.1L551.9 176.6L552.4 174.5L552.9 172.3L553.4 170.7L553.9 169.5L554.4 169.6L554.9 170.8L555.4 172.6L555.9 174.3L556.4 175.4L556.9 176.1L557.4 176.7L557.9 176.8L558.4 175.9L558.9 173.8L559.4 171.4L559.9 169.2L560.4 167.8L560.9 167.1L561.4 167.7L561.9 169.1L562.4 170.9L562.9 172.5L563.4 173.8L563.9 174.6L564.4 172.9L564.9 169.8L565.4 167.8L565.9 167.0L566.4 166.5L566.9 166.3L567.4 167.7L567.9 170.4L568.4 172.4L568.9 173.4L569.4 174.3L569.9 174.6L570.4 172.7L570.9 169.2L571.4 167.1L571.9 166.7L572.4 166.4L572.9 166.3L573.4 167.7L573.9 170.4L574.4 172.3L574.9 173.1L575.4 173.6L575.9 173.8L576.4 173.1L576.9 171.6L577.4 170.8L577.9 171.6L578.4 173.5L578.9 175.9L579.4 178.3L579.9 181.9L580.4 184.8L580.9 184.8L581.4 184.0L581.9 182.8L582.4 181.8L582.9 180.8L583.4 179.8L583.9 179.0L584.4 178.6L584.9 179.3L585.4 181.3L585.9 183.6L586.4 185.6L586.9 187.8L587.4 189.8L587.9 190.6L588.4 190.0L588.9 188.7L589.4 187.5L589.9 186.9L590.4 186.4L590.9 186.0L591.4 185.9L591.9 187.2L592.4 189.6L592.9 191.9L593.4 193.6L593.9 195.4L594.4 196.7L594.9 197.0L595.4 196.0L595.9 194.3L596.4 192.9L596.9 192.0L597.4 191.3L597.9 191.1L598.4 192.0L598.9 193.7L599.4 195.7L599.9 197.5L600.4 199.2L600.9 201.2L601.4 202.9L601.9 203.9L602.4 203.5L602.9 201.7L603.4 199.5L603.9 198.1L604.4 197.1L604.9 196.2L605.4 195.8L605.9 196.3L606.4 198.0L606.9 200.3L607.4 202.6L607.9 204.4L608.4 206.4L608.9 208.0L609.4 208.7L609.9 208.4L610.4 207.7L610.9 206.8L611.4 205.9L611.9 205.1L612.4 204.1L612.9 203.2L613.4 202.3L613.9 201.9L614.4 202.0L614.9 202.9L615.4 204.2L615.9 205.5L616.4 206.8L616.9 208.4L617.4 210.2L617.5 210.4" stroke="#000080" stroke-width="2"/><path class="ln" d="M67.4 262.4L67.9 263.0L68.4 263.4L68.9 263.6L69.4 263.7L69.9 263.6L70.4 263.1L70.9 262.4L71.4 261.8L71.9 261.8L72.4 262.4L72.9 263.1L73.4 263.6L73.9 263.6L74.4 263.2L74.9 262.7L75.4 262.4L75.9 262.6L76.4 263.2L76.9 263.9L77.4 264.3L77.9 264.0L78.4 263.1L78.9 262.2L79.4 261.7L79.9 262.1L80.4 262.8L80.9 263.4L81.4 263.7L81.9 263.5L82.4 263.2L82.9 262.8L83.4 262.6L83.9 262.4L84.4 262.1L84.9 261.9L85.4 261.8L85.9 261.8L86.4 262.1L86.9 262.7L87.4 263.2L87.9 263.4L88.4 263.5L88.9 263.5L89.4 263.6L89.9 263.6L90.4 263.6L90.9 263.6L91.4 263.7L91.9 263.7L92.4 263.9L92.9 264.1L93.4 264.3L93.9 264.5L94.4 264.7L94.9 264.9L95.4 265.0L95.9 265.0L96.4 264.9L96.9 264.9L97.4 264.8L97.9 264.7L98.4 264.6L98.9 264.5L99.4 264.3L99.9 264.1L100.4 263.6L100.9 263.2L101.4 262.7L101.9 262.4L102.4 262.2L102.9 262.1L103.4 261.9L103.9 261.8L104.4 261.8L104.9 261.9L105.4 262.5L105.9 263.4L106.4 264.5L106.9 265.7L107.4 267.2L107.9 269.5L108.4 271.8L108.9 273.3L109.4 272.8L109.9 270.6L110.4 267.5L110.9 264.5L111.4 262.6L111.9 262.4L112.4 262.7L112.9 263.0L113.4 263.4L113.9 263.6L114.4 263.6L114.9 263.3L115.4 262.7L115.9 261.9L116.4 261.2L116.9 260.7L117.4 260.5L117.9 260.8L118.4 261.7L118.9 263.0L119.4 264.5L119.9 266.0L120.4 267.5L120.9 269.5L121.4 271.2L121.9 272.1L122.4 271.5L122.9 270.1L123.4 268.3L123.9 266.7L124.4 265.9L124.9 265.2L125.4 264.6L125.9 264.1L126.4 263.7L126.9 263.4L127.4 263.1L127.9 262.9L128.4 262.7L128.9 262.5L129.4 262.4L129.9 262.6L130.4 263.9L130.9 266.0L131.4 268.1L131.9 269.8L132.4 271.8L132.9 273.6L133.4 274.6L133.9 274.3L134.4 272.7L134.9 270.6L135.4 268.6L135.9 267.1L136.4 265.8L136.9 264.6L137.4 263.6L137.9 263.1L138.4 263.1L138.9 263.4L139.4 263.8L139.9 264.4L140.4 265.0L140.9 265.7L141.4 266.4L141.9 267.6L142.4 269.1L142.9 270.7L143.4 272.2L143.9 273.4L144.4 274.0L144.9 273.5L145.4 271.7L145.9 269.5L146.4 267.7L146.9 266.3L147.4 265.0L147.9 264.0L148.4 263.7L148.9 264.2L149.4 265.4L149.9 266.9L150.4 268.6L150.9 270.0L151.4 271.3L151.9 272.8L152.4 274.2L152.9 275.3L153.4 275.9L153.9 275.6L154.4 274.4L154.9 272.7L155.4 271.0L155.9 269.7L156.4 268.2L156.9 266.8L157.4 265.6L157.9 265.0L158.4 265.3L158.9 266.6L159.4 268.3L159.9 269.9L160.4 271.5L160.9 273.2L161.4 274.7L161.9 275.3L162.4 274.8L162.9 273.7L163.4 272.3L163.9 270.9L164.4 269.8L164.9 268.6L165.4 267.5L165.9 266.6L166.4 266.3L166.9 267.0L167.4 268.8L167.9 271.0L168.4 272.9L168.9 274.6L169.4 276.3L169.9 277.5L170.4 277.8L170.9 276.7L171.4 274.7L171.9 272.5L172.4 270.9L172.9 269.1L173.4 267.5L173.9 266.4L174.4 266.4L174.9 267.7L175.4 269.6L175.9 271.5L176.4 273.0L176.9 274.8L177.4 276.4L177.9 277.6L178.4 277.8L178.9 276.8L179.4 275.1L179.9 273.1L180.4 271.5L180.9 269.7L181.4 268.2L181.9 267.6L182.4 268.2L182.9 269.7L183.4 271.5L183.9 272.9L184.4 274.2L184.9 275.5L185.4 276.4L185.9 276.5L186.4 275.9L186.9 274.7L187.4 273.3L187.9 272.2L188.4 271.1L188.9 270.0L189.4 269.0L189.9 268.4L190.4 268.2L190.9 269.0L191.4 270.4L191.9 271.9L192.4 273.2L192.9 274.7L193.4 276.2L193.9 277.1L194.4 277.0L194.9 276.0L195.4 274.5L195.9 273.2L196.4 271.8L196.9 270.6L197.4 270.1L197.9 272.1L198.4 275.4L198.9 277.2L199.4 278.5L199.9 281.8L200.4 283.6L200.9 284.3L201.4 284.9L201.9 285.6L202.4 286.1L202.9 286.6L203.4 287.1L203.9 287.4L204.4 287.8L204.9 288.1L205.4 288.5L205.9 288.9L206.4 289.3L206.9 289.7L207.4 289.8L207.9 289.5L208.4 288.9L208.9 288.2L209.4 287.2L209.9 285.5L210.4 282.8L210.9 275.5L211.4 254.5L211.9 256.0L212.4 260.0L212.9 264.1L213.4 267.5L213.9 270.9L214.4 273.8L214.9 275.9L215.4 277.7L215.9 279.2L216.4 280.1L216.9 277.9L217.4 269.5L217.9 261.3L218.4 254.1L218.9 254.8L219.4 258.4L219.9 262.6L220.4 265.8L220.9 268.8L221.4 271.2L221.9 271.5L222.4 268.4L222.9 263.2L223.4 258.4L223.9 254.0L224.4 249.6L224.9 247.3L225.4 248.9L225.9 253.6L226.4 258.8L226.9 262.6L227.4 266.5L227.9 269.3L228.4 269.0L228.9 263.3L229.4 257.8L229.9 253.2L230.4 253.1L230.9 256.9L231.4 260.7L231.9 263.4L232.4 265.5L232.9 265.8L233.4 264.1L233.9 261.7L234.4 259.4L234.9 257.3L235.4 255.3L235.9 254.3L236.4 255.4L236.9 257.8L237.4 260.5L237.9 262.9L238.4 265.2L238.9 265.9L239.4 264.2L239.9 261.5L240.4 259.1L240.9 256.8L241.4 254.8L241.9 254.5L242.4 256.0L242.9 258.5L243.4 260.8L243.9 262.8L244.4 264.9L244.9 265.9L245.4 265.1L245.9 262.8L246.4 260.5L246.9 258.8L247.4 257.0L247.9 255.8L248.4 255.8L248.9 257.0L249.4 259.0L249.9 260.8L250.4 262.2L250.9 263.5L251.4 264.6L251.9 265.3L252.4 264.9L252.9 263.2L253.4 261.0L253.9 259.1L254.4 257.6L254.9 256.1L255.4 254.9L255.9 254.3L256.4 255.1L256.9 257.0L257.4 258.9L257.9 260.3L258.4 261.7L258.9 262.6L259.4 262.2L259.9 259.2L260.4 255.8L260.9 252.7L261.4 249.9L261.9 249.9L262.4 256.1L262.9 262.5L263.4 268.1L263.9 268.3L264.4 263.5L264.9 258.9L265.4 254.8L265.9 255.4L266.4 259.2L266.9 262.8L267.4 265.8L267.9 262.4L268.4 256.2L268.9 253.2L269.4 256.7L269.9 261.2L270.4 265.7L270.9 267.0L271.4 264.2L271.9 259.8L272.4 256.3L272.9 253.0L273.4 250.0L273.9 248.6L274.4 249.7L274.9 252.9L275.4 256.7L275.9 259.8L276.4 263.4L276.9 266.1L277.4 266.5L277.9 265.4L278.4 263.7L278.9 261.7L279.4 259.8L279.9 258.3L280.4 256.5L280.9 254.9L281.4 253.9L281.9 253.8L282.4 255.2L282.9 257.3L283.4 259.4L283.9 260.9L284.4 262.5L284.9 263.8L285.4 264.6L285.9 264.2L286.4 262.5L286.9 260.2L287.4 258.3L287.9 256.4L288.4 254.8L288.9 254.4L289.4 256.2L289.9 258.8L290.4 260.5L290.9 262.1L291.4 262.7L291.9 262.1L292.4 260.7L292.9 258.7L293.4 256.2L293.9 253.8L294.4 254.7L294.9 257.5L295.4 260.1L295.9 262.1L296.4 260.2L296.9 256.7L297.4 253.9L297.9 252.4L298.4 256.1L298.9 262.0L299.4 267.8L299.9 270.1L300.4 260.4L300.9 253.0L301.4 252.8L301.9 257.0L302.4 261.0L302.9 264.4L303.4 262.9L303.9 258.8L304.4 256.3L304.9 258.1L305.4 260.3L305.9 262.1L306.4 262.6L306.9 261.0L307.4 258.9L307.9 257.5L308.4 256.1L308.9 255.7L309.4 258.7L309.9 262.9L310.4 267.0L310.9 268.3L311.4 264.8L311.9 260.8L312.4 257.2L312.9 256.4L313.4 258.0L313.9 259.9L314.4 261.3L314.9 262.6L315.4 263.5L315.9 264.2L316.4 264.8L316.9 265.2L317.4 265.0L317.9 261.7L318.4 257.6L318.9 254.6L319.4 252.0L319.9 251.2L320.4 253.3L320.9 256.7L321.4 259.8L321.9 262.5L322.4 265.1L322.9 266.5L323.4 266.0L323.9 263.9L324.4 261.4L324.9 259.4L325.4 257.2L325.9 255.4L326.4 255.1L326.9 257.1L327.4 260.1L327.9 262.5L328.4 264.8L328.9 266.8L329.4 267.9L329.9 266.4L330.4 262.6L330.9 259.3L331.4 256.1L331.9 253.8L332.4 254.3L332.9 256.5L333.4 259.3L333.9 261.5L334.4 264.0L334.9 266.0L335.4 266.5L335.9 264.8L336.4 262.1L336.9 259.8L337.4 257.8L337.9 256.0L338.4 255.0L338.9 255.6L339.4 257.5L339.9 259.7L340.4 261.7L340.9 263.8L341.4 265.6L341.9 265.8L342.4 264.3L342.9 262.1L343.4 260.4L343.9 258.9L344.4 257.5L344.9 256.9L345.4 257.7L345.9 259.7L346.4 261.9L346.9 263.7L347.4 265.6L347.9 267.0L348.4 267.0L348.9 265.3L349.4 264.0L349.9 263.1L350.4 262.0L350.9 260.5L351.4 259.0L351.9 257.6L352.4 256.1L352.9 254.8L353.4 254.4L353.9 255.9L354.4 258.6L354.9 260.9L355.4 262.9L355.9 264.8L356.4 265.9L356.9 265.5L357.4 263.6L357.9 261.4L358.4 259.5L358.9 257.6L359.4 256.1L359.9 255.7L360.4 256.7L360.9 258.5L361.4 260.4L361.9 262.0L362.4 263.8L362.9 265.4L363.4 266.4L363.9 266.3L364.4 264.8L364.9 262.4L365.4 260.1L365.9 258.3L366.4 256.3L366.9 254.6L367.4 253.7L367.9 254.5L368.4 256.8L368.9 259.5L369.4 261.6L369.9 263.9L370.4 265.6L370.9 265.8L371.4 264.1L371.9 261.4L372.4 258.9L372.9 256.5L373.4 254.2L373.9 253.1L374.4 253.1L374.9 253.4L375.4 253.9L375.9 256.1L376.4 259.2L376.9 261.7L377.4 264.2L377.9 265.3L378.4 264.3L378.9 262.2L379.4 260.2L379.9 258.5L380.4 256.8L380.9 255.7L381.4 256.0L381.9 257.7L382.4 260.0L382.9 261.8L383.4 263.7L383.9 265.4L384.4 265.9L384.9 264.8L385.4 262.7L385.9 260.3L386.4 258.4L386.9 256.4L387.4 254.5L387.9 253.3L388.4 253.3L388.9 255.4L389.4 258.4L389.9 260.8L390.4 263.2L390.9 265.3L391.4 266.6L391.9 267.1L392.4 267.5L392.9 267.8L393.4 267.9L393.9 265.4L394.4 261.2L394.9 257.8L395.4 254.3L395.9 252.4L396.4 253.7L396.9 256.7L397.4 259.8L397.9 262.4L398.4 265.1L398.9 266.9L399.4 267.0L399.9 265.6L400.4 263.6L400.9 261.9L401.4 260.0L401.9 258.3L402.4 257.6L402.9 259.0L403.4 261.6L403.9 263.6L404.4 265.5L404.9 266.6L405.4 265.4L405.9 262.5L406.4 260.1L406.9 257.9L407.4 256.4L407.9 256.3L408.4 256.3L408.9 256.3L409.4 256.3L409.9 256.9L410.4 258.9L410.9 261.1L411.4 263.1L411.9 265.2L412.4 266.9L412.9 267.0L413.4 265.0L413.9 262.3L414.4 260.2L414.9 258.2L415.4 256.4L415.9 255.6L416.4 256.4L416.9 258.2L417.4 260.1L417.9 261.8L418.4 263.7L418.9 265.1L419.4 265.0L419.9 263.1L420.4 260.7L420.9 258.7L421.4 256.7L421.9 255.0L422.4 254.3L422.9 255.5L423.4 257.8L423.9 260.2L424.4 262.4L424.9 264.8L425.4 266.4L425.9 265.6L426.4 261.7L426.9 258.0L427.4 254.5L427.9 254.9L428.4 257.0L428.9 259.5L429.4 261.6L429.9 264.1L430.4 266.1L430.9 266.5L431.4 264.7L431.9 261.9L432.4 259.7L432.9 257.7L433.4 255.9L433.9 255.0L434.4 255.7L434.9 257.9L435.4 260.4L435.9 262.5L436.4 265.0L436.9 266.9L437.4 267.0L437.9 264.6L438.4 261.3L438.9 258.8L439.4 256.2L439.9 254.0L440.4 253.1L440.9 254.0L441.4 256.3L441.9 258.7L442.4 260.7L442.9 262.9L443.4 264.4L443.9 264.4L444.4 262.7L444.9 260.5L445.4 258.8L445.9 257.0L446.4 255.5L446.9 255.0L447.4 255.9L447.9 257.8L448.4 259.7L448.9 261.3L449.4 262.9L449.9 263.9L450.4 263.5L450.9 261.5L451.4 259.1L451.9 257.3L452.4 255.5L452.9 254.1L453.4 253.8L453.9 257.0L454.4 260.1L454.9 262.2L455.4 263.9L455.9 264.7L456.4 263.8L456.9 261.6L457.4 259.1L457.9 257.0L458.4 254.5L458.9 252.7L459.4 252.7L459.9 254.5L460.4 257.0L460.9 258.8L461.4 260.6L461.9 262.1L462.4 262.7L462.9 261.1L463.4 257.9L463.9 255.1L464.4 252.2L464.9 250.5L465.4 255.1L465.9 262.2L466.4 265.1L466.9 261.9L467.4 258.9L467.9 256.4L468.4 255.4L468.9 255.0L469.4 254.7L469.9 254.5L470.4 254.4L470.9 254.4L471.4 254.8L471.9 255.6L472.4 256.8L472.9 258.3L473.4 261.2L473.9 264.4L474.4 267.9L474.9 265.5L475.4 254.6L475.9 246.0L476.4 251.2L476.9 258.2L477.4 259.7L477.9 253.6L478.4 251.2L478.9 257.6L479.4 263.5L479.9 261.4L480.4 256.1L480.9 253.2L481.4 257.5L481.9 262.3L482.4 265.3L482.9 260.7L483.4 255.7L483.9 255.6L484.4 261.0L484.9 265.9L485.4 260.2L485.9 252.4L486.4 250.2L486.9 259.7L487.4 269.0L487.9 265.0L488.4 255.4L488.9 250.1L489.4 258.4L489.9 267.4L490.4 266.4L490.9 257.9L491.4 251.8L491.9 255.1L492.4 259.4L492.9 260.5L493.4 258.5L493.9 256.5L494.4 254.6L494.9 254.9L495.4 256.7L495.9 258.2L496.4 254.1L496.9 249.0L497.4 248.1L497.9 254.9L498.4 261.0L498.9 266.4L499.4 266.7L499.9 263.7L500.4 260.3L500.9 257.2L501.4 254.4L501.9 253.7L502.4 253.8L502.9 253.9L503.4 254.2L503.9 254.9L504.4 257.9L504.9 261.2L505.4 264.3L505.9 267.2L506.4 267.4L506.9 262.0L507.4 256.0L507.9 249.9L508.4 249.0L508.9 251.9L509.4 255.3L509.9 258.4L510.4 261.3L510.9 261.4L511.4 255.5L511.9 250.3L512.4 251.7L512.9 257.2L513.4 262.4L513.9 266.5L514.4 265.7L514.9 263.1L515.4 260.1L515.9 257.5L516.4 254.5L516.9 252.2L517.4 252.1L517.9 254.9L518.4 258.4L518.9 261.5L519.4 264.4L519.9 265.2L520.4 263.1L520.9 260.0L521.4 257.5L521.9 254.8L522.4 253.7L522.9 255.1L523.4 257.7L523.9 260.2L524.4 262.5L524.9 265.0L525.4 266.5L525.9 266.1L526.4 263.7L526.9 260.7L527.4 258.1L527.9 255.1L528.4 252.6L528.9 251.9L529.4 255.4L529.9 259.8L530.4 264.5L530.9 265.7L531.4 262.9L531.9 259.2L532.4 256.5L532.9 253.9L533.4 251.2L533.9 248.6L534.4 251.8L534.9 256.4L535.4 260.9L535.9 262.5L536.4 259.1L536.9 255.6L537.4 252.6L537.9 251.9L538.4 253.6L538.9 256.0L539.4 258.0L539.9 260.0L540.4 261.8L540.9 262.7L541.4 261.9L541.9 259.9L542.4 257.5L542.9 255.5L543.4 253.2L543.9 251.4L544.4 251.4L544.9 253.4L545.4 256.1L545.9 258.3L546.4 260.6L546.9 262.5L547.4 263.4L547.9 261.6L548.4 258.0L548.9 255.0L549.4 251.8L549.9 249.9L550.4 250.4L550.9 252.1L551.4 254.3L551.9 256.3L552.4 258.1L552.9 260.0L553.4 261.6L553.9 262.1L554.4 260.9L554.9 258.5L555.4 256.1L555.9 253.9L556.4 251.5L556.9 249.9L557.4 250.5L557.9 252.9L558.4 255.9L558.9 258.3L559.4 260.8L559.9 262.8L560.4 263.2L560.9 260.4L561.4 256.2L561.9 252.6L562.4 248.9L562.9 247.3L563.4 248.8L563.9 252.0L564.4 255.5L564.9 258.6L565.4 262.1L565.9 264.4L566.4 263.8L566.9 260.4L567.4 256.8L567.9 253.3L568.4 250.4L568.9 250.1L569.4 252.4L569.9 255.5L570.4 258.1L570.9 260.7L571.4 263.0L571.9 264.0L572.4 262.4L572.9 259.2L573.4 256.4L573.9 253.5L574.4 251.8L574.9 252.3L575.4 253.9L575.9 256.0L576.4 258.0L576.9 259.6L577.4 261.2L577.9 262.8L578.4 264.1L578.9 264.6L579.4 262.6L579.9 257.6L580.4 252.7L580.9 249.2L581.4 250.1L581.9 252.0L582.4 253.6L582.9 254.8L583.4 256.0L583.9 257.4L584.4 258.8L584.9 260.1L585.4 261.6L585.9 262.6L586.4 261.4L586.9 257.2L587.4 253.7L587.9 251.2L588.4 251.4L588.9 252.5L589.4 254.1L589.9 255.7L590.4 257.1L590.9 258.5L591.4 260.1L591.9 261.4L592.4 262.0L592.9 261.3L593.4 258.7L593.9 256.3L594.4 253.8L594.9 252.0L595.4 252.0L595.9 252.9L596.4 254.4L596.9 255.9L597.4 257.2L597.9 258.4L598.4 259.7L598.9 260.7L599.4 261.4L599.9 261.1L600.4 259.3L600.9 257.0L601.4 255.2L601.9 253.3L602.4 251.7L602.9 251.1L603.4 252.0L603.9 253.7L604.4 255.7L604.9 257.3L605.4 259.0L605.9 260.7L606.4 261.8L606.9 261.9L607.4 260.6L607.9 258.5L608.4 256.6L608.9 254.6L609.4 252.7L609.9 251.8L610.4 252.2L610.9 253.4L611.4 255.0L611.9 256.6L612.4 258.0L612.9 259.4L613.4 261.0L613.9 262.2L614.4 262.7L614.9 261.5L615.4 258.9L615.9 256.7L616.4 254.7L616.6 253.7" stroke="#ff80a8" stroke-width="2.5"/><path class="ln" d="M67.4 280.5L67.8 279.4L68.1 278.6L68.5 277.9L68.8 277.3L69.2 276.8L69.5 276.4L69.9 276.4L70.2 276.7L70.6 277.2L70.9 277.8L71.3 278.3L71.6 278.5L72.0 278.5L72.3 278.2L72.7 277.9L73.0 277.5L73.4 277.3L73.7 277.3L74.1 277.5L74.4 277.9L74.8 278.3L75.1 278.7L75.5 278.9L75.8 278.9L76.2 278.6L76.5 278.3L76.9 277.9L77.2 277.7L77.6 277.6L77.9 277.8L78.3 278.2L78.6 278.6L79.0 279.0L79.3 279.2L79.7 279.1L80.0 278.9L80.4 278.5L80.7 278.2L81.1 278.0L81.4 277.9L81.8 278.0L82.1 278.3L82.5 278.5L82.8 278.8L83.2 278.9L83.5 278.9L83.9 278.8L84.2 278.6L84.6 278.4L84.9 278.2L85.3 278.0L85.6 277.9L86.0 277.9L86.3 278.0L86.7 278.2L87.0 278.4L87.4 278.6L87.7 278.7L88.1 278.6L88.4 278.5L88.8 278.3L89.1 278.1L89.5 277.9L89.8 277.8L90.2 277.7L90.5 277.6L90.9 277.7L91.2 277.9L91.6 278.0L91.9 278.2L92.3 278.4L92.6 278.5L93.0 278.5L93.3 278.5L93.7 278.4L94.0 278.3L94.4 278.2L94.7 278.0L95.1 277.9L95.4 277.9L95.8 277.9L96.1 278.0L96.5 278.0L96.8 278.2L97.2 278.3L97.5 278.3L97.9 278.4L98.2 278.4L98.6 278.4L98.9 278.3L99.3 278.2L99.6 278.1L100.0 278.0L100.3 278.0L100.7 277.9L101.0 277.9L101.4 277.8L101.7 277.8L102.1 277.8L102.4 277.7L102.8 277.7L103.1 277.7L103.5 277.6L103.8 277.4L104.2 277.1L104.5 276.8L104.9 276.5L105.2 276.2L105.6 276.0L105.9 276.0L106.3 276.0L106.6 276.2L107.0 276.5L107.3 276.8L107.7 277.1L108.0 277.5L108.4 277.9L108.7 278.2L109.1 278.5L109.4 278.8L109.8 279.2L110.1 279.6L110.5 279.9L110.8 280.3L111.2 280.6L111.5 280.9L111.9 281.0L112.2 281.1L112.6 281.1L112.9 281.0L113.3 280.8L113.6 280.6L114.0 280.3L114.3 280.0L114.7 279.7L115.0 279.4L115.4 279.1L115.7 278.8L116.1 278.6L116.4 278.4L116.8 278.2L117.1 277.9L117.5 277.7L117.8 277.5L118.2 277.2L118.5 277.1L118.9 276.9L119.2 276.7L119.6 276.7L119.9 276.6L120.3 276.7L120.6 276.9L121.0 277.2L121.3 277.6L121.7 278.1L122.0 278.5L122.4 279.0L122.7 279.3L123.1 279.6L123.4 280.0L123.8 280.3L124.1 280.6L124.5 280.9L124.8 281.1L125.2 281.1L125.5 281.0L125.9 280.8L126.2 280.4L126.6 280.0L126.9 279.6L127.3 279.3L127.6 279.0L128.0 278.6L128.3 278.2L128.7 278.0L129.0 277.9L129.4 277.9L129.7 278.0L130.1 278.2L130.4 278.4L130.8 278.7L131.1 279.0L131.5 279.3L131.8 279.5L132.2 279.8L132.5 280.0L132.9 280.2L133.2 280.5L133.6 280.8L133.9 281.1L134.3 281.3L134.6 281.5L135.0 281.7L135.3 281.8L135.7 281.7L136.0 281.6L136.4 281.3L136.7 280.9L137.1 280.5L137.4 280.1L137.8 279.7L138.1 279.4L138.5 279.1L138.8 278.9L139.2 278.6L139.5 278.3L139.9 278.1L140.2 278.0L140.6 277.9L140.9 277.9L141.3 278.1L141.6 278.4L142.0 278.7L142.3 279.1L142.7 279.5L143.0 279.8L143.4 280.1L143.7 280.4L144.1 280.6L144.4 280.9L144.8 281.1L145.1 281.3L145.5 281.5L145.8 281.6L146.2 281.7L146.5 281.8L146.9 281.7L147.2 281.6L147.6 281.5L147.9 281.3L148.3 281.1L148.6 280.9L149.0 280.8L149.3 280.6L149.7 280.5L150.0 280.5L150.4 280.6L150.7 280.8L151.1 281.0L151.4 281.2L151.8 281.4L152.1 281.6L152.5 281.7L152.8 281.8L153.2 281.7L153.5 281.7L153.9 281.5L154.2 281.4L154.6 281.2L154.9 281.1L155.3 280.9L155.6 280.8L156.0 280.7L156.3 280.7L156.7 280.7L157.0 280.8L157.4 280.8L157.7 280.8L158.1 280.9L158.4 281.0L158.8 281.0L159.1 281.1L159.5 281.1L159.8 281.2L160.2 281.4L160.5 281.5L160.9 281.7L161.2 281.9L161.6 282.0L161.9 282.2L162.3 282.3L162.6 282.4L163.0 282.5L163.3 282.6L163.7 282.7L164.0 282.8L164.4 282.9L164.7 282.9L165.1 283.0L165.4 283.0L165.8 283.1L166.1 283.0L166.5 283.0L166.8 283.0L167.2 283.0L167.5 282.9L167.9 282.9L168.2 282.8L168.6 282.8L168.9 282.8L169.3 282.8L169.6 282.9L170.0 283.1L170.3 283.3L170.7 283.6L171.0 283.8L171.4 284.1L171.7 284.2L172.1 284.3L172.4 284.3L172.8 284.3L173.1 284.3L173.5 284.3L173.8 284.2L174.2 284.2L174.5 284.1L174.9 284.1L175.2 284.1L175.6 284.1L175.9 284.1L176.3 284.2L176.6 284.3L177.0 284.4L177.3 284.6L177.7 284.7L178.0 284.8L178.4 284.9L178.7 285.0L179.1 285.0L179.4 285.1L179.8 285.1L180.1 285.2L180.5 285.2L180.8 285.2L181.2 285.3L181.5 285.3L181.9 285.4L182.2 285.4L182.6 285.5L182.9 285.7L183.3 285.8L183.6 285.9L184.0 286.1L184.3 286.2L184.7 286.2L185.0 286.3L185.4 286.3L185.7 286.2L186.1 286.1L186.4 286.0L186.8 285.8L187.1 285.7L187.5 285.5L187.8 285.4L188.2 285.4L188.5 285.4L188.9 285.4L189.2 285.4L189.6 285.4L189.9 285.4L190.3 285.5L190.6 285.5L191.0 285.6L191.3 285.6L191.7 285.6L192.0 285.7L192.4 285.9L192.7 286.0L193.1 286.2L193.4 286.4L193.8 286.6L194.1 286.9L194.5 287.0L194.8 287.2L195.2 287.3L195.5 287.4L195.9 287.6L196.2 287.7L196.6 287.8L196.9 287.9L197.3 288.0L197.6 288.1L198.0 288.2L198.3 288.3L198.7 288.3L199.0 288.4L199.4 288.5L199.7 288.5L200.1 288.6L200.4 288.7L200.8 288.7L201.1 288.8L201.5 288.9L201.8 289.0L202.2 289.1L202.5 289.3L202.9 289.4L203.2 289.5L203.6 289.7L203.9 289.9L204.3 290.0L204.6 290.2L205.0 290.4L205.3 290.7L205.7 291.0L206.0 291.2L206.4 291.5L206.7 291.8L207.1 292.1L207.4 292.4L207.8 292.7L208.1 293.1L208.5 293.4L208.8 293.7L209.2 293.9L209.5 294.0L209.9 293.7L210.2 292.5L210.6 290.9L210.9 289.3L211.3 288.4L211.6 287.9L212.0 287.5L212.3 287.1L212.7 286.7L213.0 286.0L213.4 285.0L213.7 283.9L214.1 282.9L214.4 282.2L214.8 282.1L215.1 282.4L215.5 282.9L215.8 283.7L216.2 284.5L216.5 285.2L216.9 285.7L217.2 285.9L217.6 285.9L217.9 285.8L218.3 285.7L218.6 285.5L219.0 285.3L219.3 285.1L219.7 284.8L220.0 284.3L220.4 283.2L220.7 281.6L221.1 280.0L221.4 278.7L221.8 278.2L222.1 278.4L222.5 278.9L222.8 279.6L223.2 280.4L223.5 281.1L223.9 281.7L224.2 282.0L224.6 282.0L224.9 281.6L225.3 280.9L225.6 280.1L226.0 279.1L226.3 278.2L226.7 277.4L227.0 276.7L227.4 276.3L227.7 276.3L228.1 276.6L228.4 277.1L228.8 277.7L229.1 278.4L229.5 278.9L229.8 279.3L230.2 279.5L230.5 279.2L230.9 278.6L231.2 277.8L231.6 276.9L231.9 276.0L232.3 275.3L232.6 275.0L233.0 275.0L233.3 275.3L233.7 275.8L234.0 276.3L234.4 277.0L234.7 277.6L235.1 278.1L235.4 278.6L235.8 278.8L236.1 278.8L236.5 278.4L236.8 277.6L237.2 276.8L237.5 275.9L237.9 275.1L238.2 274.5L238.6 274.3L238.9 274.5L239.3 274.9L239.6 275.5L240.0 276.2L240.3 277.0L240.7 277.7L241.0 278.2L241.4 278.7L241.7 278.8L242.1 278.7L242.4 278.1L242.8 277.3L243.1 276.4L243.5 275.5L243.8 274.8L244.2 274.4L244.5 274.4L244.9 274.6L245.2 274.9L245.6 275.4L245.9 275.9L246.3 276.4L246.6 276.9L247.0 277.3L247.3 277.5L247.7 277.5L248.0 277.4L248.4 277.0L248.7 276.6L249.1 276.1L249.4 275.6L249.8 275.1L250.1 274.7L250.5 274.4L250.8 274.3L251.2 274.4L251.5 274.7L251.9 275.0L252.2 275.4L252.6 275.8L252.9 276.2L253.3 276.6L253.6 276.8L254.0 276.9L254.3 276.9L254.7 276.8L255.0 276.6L255.4 276.4L255.7 276.2L256.1 276.0L256.4 275.8L256.8 275.7L257.1 275.6L257.5 275.6L257.8 275.7L258.2 275.7L258.5 275.8L258.9 276.0L259.2 276.6L259.6 278.6L259.9 280.6L260.3 281.0L260.6 279.2L261.0 276.9L261.3 275.8L261.7 277.4L262.0 280.3L262.4 282.4L262.7 281.5L263.1 278.6L263.4 276.0L263.8 275.8L264.1 277.7L264.5 279.8L264.8 280.5L265.2 279.0L265.5 276.7L265.9 275.3L266.2 276.7L266.6 280.1L266.9 282.7L267.3 282.3L267.6 279.2L268.0 276.0L268.3 275.3L268.7 276.9L269.0 279.1L269.4 280.1L269.7 278.9L270.1 276.7L270.4 275.1L270.8 276.2L271.1 279.7L271.5 282.8L271.8 282.9L272.2 279.8L272.5 276.3L272.9 275.0L273.2 275.0L273.6 275.1L273.9 275.3L274.3 275.4L274.6 275.5L275.0 275.6L275.3 275.6L275.7 275.2L276.0 274.4L276.4 273.8L276.7 273.7L277.1 274.0L277.4 274.5L277.8 275.1L278.1 275.8L278.5 276.4L278.8 276.8L279.2 276.9L279.5 276.9L279.9 276.7L280.2 276.6L280.6 276.4L280.9 276.2L281.3 276.0L281.6 275.8L282.0 275.7L282.3 275.6L282.7 275.7L283.0 275.8L283.4 276.0L283.7 276.1L284.1 276.2L284.4 276.2L284.8 275.7L285.1 275.0L285.5 274.8L285.8 276.7L286.2 279.8L286.5 281.5L286.9 280.3L287.2 277.4L287.6 275.1L287.9 275.2L288.3 276.9L288.6 278.5L289.0 278.9L289.3 277.6L289.7 275.9L290.0 275.1L290.4 276.5L290.7 279.2L291.1 281.1L291.4 280.4L291.8 277.9L292.1 275.7L292.5 275.5L292.8 277.0L293.2 278.8L293.5 279.4L293.9 278.2L294.2 276.5L294.6 275.5L294.9 276.3L295.3 276.5L295.6 276.3L296.0 276.0L296.3 275.7L296.7 275.6L297.0 276.0L297.4 276.6L297.7 277.2L298.1 277.5L298.4 277.3L298.8 276.5L299.1 275.8L299.5 275.5L299.8 276.3L300.2 277.6L300.5 279.1L300.9 280.0L301.2 279.9L301.6 278.8L301.9 277.2L302.3 275.9L302.6 275.4L303.0 275.8L303.3 276.6L303.7 277.4L304.0 278.0L304.4 278.0L304.7 277.4L305.1 276.5L305.4 275.7L305.8 275.3L306.1 275.8L306.5 277.2L306.8 278.8L307.2 280.1L307.5 280.3L307.9 279.3L308.2 277.7L308.6 276.1L308.9 275.1L309.3 275.3L309.6 276.0L310.0 276.9L310.3 277.7L310.7 277.9L311.0 277.4L311.4 276.5L311.7 275.6L312.1 275.0L312.4 275.2L312.8 276.5L313.1 278.3L313.5 279.9L313.8 280.6L314.2 280.4L314.5 279.9L314.9 279.3L315.2 278.5L315.6 277.7L315.9 276.8L316.3 276.1L316.6 275.5L317.0 275.1L317.3 275.0L317.7 275.1L318.0 275.3L318.4 275.5L318.7 275.8L319.1 276.0L319.4 276.2L319.8 276.3L320.1 276.1L320.5 275.7L320.8 275.2L321.2 274.5L321.5 273.9L321.9 273.4L322.2 273.1L322.6 273.1L322.9 273.6L323.3 274.4L323.6 275.4L324.0 276.5L324.3 277.4L324.7 278.0L325.0 278.2L325.4 278.0L325.7 277.5L326.1 276.8L326.4 276.0L326.8 275.2L327.1 274.4L327.5 273.7L327.8 273.2L328.2 273.0L328.5 273.2L328.9 273.6L329.2 274.3L329.6 275.0L329.9 275.9L330.3 276.7L330.6 277.4L331.0 277.9L331.3 278.2L331.7 278.1L332.0 277.8L332.4 277.4L332.7 276.8L333.1 276.2L333.4 275.6L333.8 275.0L334.1 274.6L334.5 274.4L334.8 274.4L335.2 274.6L335.5 274.9L335.9 275.4L336.2 275.9L336.6 276.4L336.9 276.9L337.3 277.3L337.6 277.5L338.0 277.5L338.3 277.4L338.7 277.2L339.0 276.8L339.4 276.4L339.7 276.0L340.1 275.6L340.4 275.3L340.8 275.0L341.1 275.0L341.5 275.0L341.8 275.2L342.2 275.5L342.5 275.8L342.9 276.1L343.2 276.4L343.6 276.6L343.9 276.8L344.3 276.9L344.6 276.8L345.0 276.4L345.3 275.9L345.7 275.3L346.0 274.7L346.4 274.2L346.7 273.8L347.1 273.6L347.4 273.5L347.8 273.4L348.1 273.2L348.5 273.2L348.8 273.1L349.2 273.0L349.5 273.0L349.9 273.3L350.2 273.8L350.6 274.5L350.9 275.3L351.3 276.1L351.6 276.6L352.0 276.9L352.3 276.8L352.7 276.5L353.0 275.9L353.4 275.3L353.7 274.5L354.1 273.8L354.4 273.2L354.8 272.7L355.1 272.4L355.5 272.4L355.8 272.6L356.2 272.9L356.5 273.2L356.9 273.7L357.2 274.1L357.6 274.5L357.9 274.8L358.3 274.9L358.6 275.0L359.0 274.8L359.3 274.5L359.7 274.1L360.0 273.6L360.4 273.1L360.7 272.6L361.1 272.1L361.4 271.7L361.8 271.4L362.1 271.1L362.5 271.1L362.8 271.2L363.2 271.5L363.5 271.9L363.9 272.4L364.2 273.0L364.6 273.6L364.9 274.2L365.3 274.8L365.6 275.3L366.0 275.7L366.3 276.0L366.7 276.2L367.0 276.2L367.4 276.0L367.7 275.6L368.1 275.1L368.4 274.5L368.8 273.8L369.1 273.1L369.5 272.4L369.8 271.9L370.2 271.4L370.5 271.2L370.9 271.1L371.2 271.4L371.6 271.9L371.9 272.5L372.3 273.1L372.6 273.7L373.0 274.2L373.3 274.3L373.7 274.3L374.0 274.1L374.4 273.9L374.7 273.6L375.1 273.3L375.4 272.9L375.8 272.6L376.1 272.3L376.5 272.0L376.8 271.8L377.2 271.8L377.5 271.8L377.9 272.1L378.2 272.5L378.6 273.0L378.9 273.5L379.3 274.1L379.6 274.7L380.0 275.3L380.3 275.8L380.7 276.1L381.0 276.3L381.4 276.2L381.7 275.8L382.1 275.2L382.4 274.4L382.8 273.6L383.1 272.8L383.5 272.0L383.8 271.5L384.2 271.1L384.5 271.1L384.9 271.5L385.2 272.0L385.6 272.8L385.9 273.6L386.3 274.4L386.6 275.2L387.0 275.8L387.3 276.2L387.7 276.3L388.0 276.1L388.4 275.8L388.7 275.3L389.1 274.8L389.4 274.3L389.8 273.8L390.1 273.4L390.5 273.1L390.8 273.0L391.2 273.2L391.5 273.6L391.9 274.2L392.2 274.9L392.6 275.6L392.9 276.3L393.3 276.9L393.6 277.4L394.0 277.5L394.3 277.5L394.7 277.2L395.0 276.9L395.4 276.5L395.7 276.1L396.1 275.8L396.4 275.6L396.8 275.6L397.1 275.7L397.5 275.7L397.8 275.8L398.2 275.9L398.5 276.0L398.9 276.1L399.2 276.3L399.6 276.5L399.9 276.9L400.3 277.3L400.6 277.8L401.0 278.3L401.3 278.7L401.7 279.1L402.0 279.4L402.4 279.5L402.7 279.3L403.1 278.9L403.4 278.3L403.8 277.5L404.1 276.6L404.5 275.8L404.8 275.1L405.2 274.6L405.5 274.3L405.9 274.4L406.2 274.7L406.6 275.1L406.9 275.6L407.3 276.1L407.6 276.6L408.0 276.8L408.3 276.9L408.7 276.7L409.0 276.3L409.4 275.8L409.7 275.3L410.1 274.8L410.4 274.5L410.8 274.3L411.1 274.4L411.5 274.6L411.8 274.9L412.2 275.3L412.5 275.7L412.9 276.1L413.2 276.6L413.6 276.9L413.9 277.3L414.3 277.5L414.6 277.5L415.0 277.4L415.3 277.0L415.7 276.5L416.0 275.8L416.4 275.1L416.7 274.4L417.1 273.7L417.4 273.3L417.8 273.0L418.1 273.1L418.5 273.3L418.8 273.6L419.2 274.1L419.5 274.5L419.9 275.1L420.2 275.6L420.6 276.1L420.9 276.5L421.3 276.7L421.6 276.9L422.0 276.8L422.3 276.5L422.7 275.9L423.0 275.3L423.4 274.7L423.7 274.1L424.1 273.8L424.4 273.7L424.8 273.9L425.1 274.2L425.5 274.6L425.8 275.1L426.2 275.7L426.5 276.1L426.9 276.5L427.2 276.8L427.6 276.9L427.9 276.6L428.3 276.0L428.6 275.2L429.0 274.3L429.3 273.4L429.7 272.8L430.0 272.4L430.4 272.5L430.7 272.8L431.1 273.3L431.4 274.0L431.8 274.7L432.1 275.5L432.5 276.1L432.8 276.6L433.2 276.9L433.5 276.8L433.9 276.3L434.2 275.5L434.6 274.5L434.9 273.5L435.3 272.6L435.6 271.9L436.0 271.8L436.3 271.9L436.7 272.4L437.0 273.0L437.4 273.7L437.7 274.4L438.1 275.1L438.4 275.7L438.8 276.1L439.1 276.3L439.5 276.2L439.8 275.8L440.2 275.3L440.5 274.7L440.9 274.1L441.2 273.5L441.6 273.0L441.9 272.6L442.3 272.4L442.6 272.5L443.0 272.8L443.3 273.3L443.7 273.9L444.0 274.5L444.4 274.8L444.7 275.0L445.1 275.0L445.4 274.9L445.8 274.6L446.1 274.3L446.5 273.9L446.8 273.4L447.2 273.0L447.5 272.7L447.9 272.5L448.2 272.4L448.6 272.5L448.9 272.8L449.3 273.3L449.6 273.8L450.0 274.3L450.3 274.7L450.7 275.0L451.0 274.9L451.4 274.8L451.7 274.5L452.1 274.2L452.4 273.9L452.8 273.5L453.1 273.2L453.5 273.0L453.8 272.8L454.2 272.5L454.5 272.3L454.9 272.1L455.2 271.9L455.6 271.8L455.9 271.7L456.3 271.9L456.6 272.6L457.0 273.5L457.3 274.5L457.7 275.5L458.0 276.4L458.4 276.8L458.7 276.8L459.1 276.3L459.4 275.5L459.8 274.5L460.1 273.5L460.5 272.6L460.8 271.9L461.2 271.8L461.5 272.0L461.9 272.5L462.2 273.3L462.6 274.1L462.9 275.0L463.3 275.7L463.6 276.2L464.0 276.5L464.3 276.7L464.7 277.0L465.0 277.2L465.4 277.3L465.7 277.5L466.1 277.5L466.4 277.5L466.8 276.7L467.1 275.5L467.5 274.1L467.8 272.9L468.2 272.4L468.5 272.7L468.9 273.4L469.2 274.4L469.6 275.4L469.9 276.1L470.3 276.2L470.6 275.9L471.0 275.4L471.3 274.7L471.7 274.0L472.0 273.4L472.4 273.0L472.7 272.7L473.1 272.5L473.4 272.5L473.8 274.2L474.1 277.3L474.5 279.5L474.8 278.7L475.2 275.6L475.5 272.9L475.9 272.7L476.2 274.8L476.6 277.3L476.9 278.1L477.3 276.4L477.6 273.9L478.0 272.4L478.3 273.7L478.7 276.5L479.0 278.8L479.4 278.5L479.7 275.9L480.1 273.2L480.4 272.7L480.8 274.8L481.1 277.5L481.5 278.7L481.8 277.3L482.2 274.6L482.5 272.8L482.9 272.9L483.2 273.6L483.6 274.6L483.9 275.5L484.3 276.2L484.6 276.2L485.0 275.6L485.3 274.7L485.7 273.7L486.0 273.1L486.4 273.4L486.7 276.0L487.1 279.0L487.4 280.0L487.8 278.0L488.1 274.9L488.5 273.1L488.8 274.0L489.2 276.1L489.5 277.8L489.9 277.5L490.2 275.6L490.6 273.7L490.9 273.4L491.3 275.5L491.6 278.3L492.0 279.6L492.3 278.1L492.7 275.4L493.0 273.5L493.4 273.4L493.7 273.5L494.1 273.7L494.4 273.8L494.8 274.0L495.1 274.2L495.5 274.4L495.8 274.6L496.2 274.9L496.5 275.0L496.9 274.9L497.2 274.6L497.6 274.2L497.9 273.8L498.3 273.2L498.6 272.7L499.0 272.3L499.3 271.9L499.7 271.8L500.0 271.9L500.4 272.5L500.7 273.6L501.1 274.9L501.4 276.2L501.8 277.3L502.1 278.0L502.5 278.2L502.8 277.7L503.2 276.6L503.5 275.3L503.9 273.8L504.2 272.5L504.6 271.5L504.9 271.1L505.3 271.3L505.6 271.9L506.0 272.9L506.3 273.9L506.7 274.9L507.0 275.7L507.4 276.2L507.7 276.3L508.1 276.2L508.4 276.2L508.8 276.1L509.1 276.1L509.5 276.0L509.8 275.9L510.2 275.8L510.5 275.7L510.9 275.6L511.2 275.5L511.6 275.3L511.9 275.1L512.3 274.9L512.6 274.7L513.0 274.5L513.3 274.3L513.7 274.1L514.0 273.9L514.4 273.7L514.7 273.5L515.1 273.3L515.4 273.1L515.8 273.0L516.1 273.1L516.5 273.5L516.8 274.1L517.2 274.9L517.5 275.7L517.9 276.3L518.2 276.8L518.6 276.9L518.9 276.7L519.3 276.2L519.6 275.6L520.0 275.0L520.3 274.4L520.7 273.9L521.0 273.7L521.4 273.9L521.7 274.7L522.1 275.7L522.4 276.7L522.8 277.4L523.1 277.5L523.5 276.8L523.8 275.6L524.2 274.2L524.5 273.0L524.9 272.4L525.2 272.5L525.6 272.9L525.9 273.4L526.3 274.1L526.6 274.7L527.0 275.2L527.3 275.6L527.7 275.6L528.0 275.4L528.4 275.1L528.7 274.7L529.1 274.3L529.4 273.9L529.8 273.6L530.1 273.3L530.5 273.3L530.8 273.4L531.2 273.6L531.5 273.9L531.9 274.2L532.2 274.6L532.6 274.9L532.9 275.2L533.3 275.4L533.6 275.6L534.0 275.6L534.3 275.4L534.7 275.1L535.0 274.7L535.4 274.2L535.7 273.7L536.1 273.2L536.4 272.8L536.8 272.5L537.1 272.4L537.5 272.4L537.8 272.4L538.2 272.5L538.5 272.6L538.9 272.6L539.2 272.7L539.6 272.8L539.9 272.9L540.3 273.0L540.6 273.1L541.0 273.3L541.3 273.5L541.7 273.6L542.0 273.8L542.4 274.0L542.7 274.2L543.1 274.3L543.4 274.3L543.8 274.2L544.1 273.8L544.5 273.0L544.8 272.1L545.2 271.2L545.5 270.4L545.9 269.9L546.2 269.8L546.6 270.0L546.9 270.3L547.3 270.7L547.6 271.3L548.0 271.8L548.3 272.3L548.7 272.7L549.0 272.9L549.4 273.0L549.7 273.0L550.1 272.8L550.4 272.6L550.8 272.2L551.1 271.9L551.5 271.6L551.8 271.2L552.2 270.9L552.5 270.7L552.9 270.5L553.2 270.5L553.6 270.6L553.9 271.0L554.3 271.6L554.6 272.3L555.0 273.0L555.3 273.7L555.7 274.3L556.0 274.8L556.4 275.0L556.7 274.9L557.1 274.5L557.4 273.8L557.8 273.1L558.1 272.2L558.5 271.4L558.8 270.7L559.2 270.1L559.5 269.8L559.9 269.8L560.2 270.0L560.6 270.3L560.9 270.7L561.3 271.1L561.6 271.6L562.0 272.1L562.3 272.7L562.7 273.2L563.0 273.6L563.4 273.9L563.7 274.2L564.1 274.3L564.4 274.3L564.8 274.3L565.1 274.2L565.5 274.1L565.8 273.9L566.2 273.7L566.5 273.6L566.9 273.4L567.2 273.1L567.6 272.9L567.9 272.5L568.3 272.1L568.6 271.5L569.0 270.9L569.3 270.4L569.7 269.9L570.0 269.5L570.4 269.2L570.7 269.2L571.1 269.3L571.4 269.7L571.8 270.1L572.1 270.7L572.5 271.3L572.8 271.9L573.2 272.5L573.5 273.0L573.9 273.4L574.2 273.6L574.6 273.7L574.9 273.4L575.3 272.9L575.6 272.2L576.0 271.4L576.3 270.6L576.7 269.8L577.0 269.1L577.4 268.7L577.7 268.5L578.1 268.7L578.4 269.1L578.8 269.7L579.1 270.4L579.5 271.1L579.8 271.8L580.2 272.4L580.5 272.8L580.9 273.0L581.2 272.9L581.6 272.6L581.9 272.0L582.3 271.4L582.6 270.6L583.0 269.9L583.3 269.3L583.7 268.8L584.0 268.5L584.4 268.6L584.7 268.8L585.1 269.3L585.4 269.8L585.8 270.5L586.1 271.1L586.5 271.6L586.8 272.1L587.2 272.3L587.5 272.4L587.9 272.2L588.2 271.9L588.6 271.4L588.9 270.9L589.3 270.4L589.6 269.9L590.0 269.5L590.3 269.2L590.7 269.2L591.0 269.3L591.4 269.7L591.7 270.2L592.1 270.8L592.4 271.5L592.8 272.1L593.1 272.6L593.5 272.9L593.8 273.0L594.2 272.9L594.5 272.6L594.9 272.1L595.2 271.5L595.6 270.9L595.9 270.3L596.3 269.7L596.6 269.4L597.0 269.2L597.3 269.2L597.7 269.3L598.0 269.6L598.4 269.9L598.7 270.2L599.1 270.5L599.4 270.9L599.8 271.2L600.1 271.5L600.5 271.7L600.8 271.7L601.2 271.7L601.5 271.5L601.9 271.3L602.2 270.9L602.6 270.5L602.9 270.1L603.3 269.6L603.6 269.2L604.0 268.9L604.3 268.7L604.7 268.5L605.0 268.6L605.4 268.8L605.7 269.2L606.1 269.7L606.4 270.3L606.8 270.9L607.1 271.5L607.5 272.0L607.8 272.5L608.2 272.8L608.5 273.0L608.9 273.0L609.2 272.8L609.6 272.5L609.9 272.1L610.3 271.6L610.6 271.1L611.0 270.5L611.3 270.1L611.7 269.7L612.0 269.4L612.4 269.2L612.7 269.2L613.1 269.2L613.4 269.3L613.8 269.5L614.1 269.7L614.5 270.0L614.8 270.3L615.2 270.7L615.5 271.1L615.9 271.6L616.2 272.2L616.6 272.8L616.9 273.4L617.0 273.7" stroke="#0000ff" stroke-width="2"/><path class="ln" d="M67.2 153.2L67.7 153.2L68.2 153.2L68.7 153.3L69.2 153.3L69.7 153.3L70.2 153.4L70.7 153.4L71.2 153.4L71.7 153.4L72.2 153.5L72.7 153.5L73.2 153.5L73.7 153.6L74.2 153.6L74.7 153.6L75.2 153.7L75.7 153.7L76.2 153.7L76.7 153.7L77.2 153.8L77.7 153.8L78.2 153.8L78.7 153.9L79.2 153.9L79.7 153.9L80.2 153.9L80.7 154.0L81.2 154.0L81.7 154.0L82.2 154.1L82.7 154.1L83.2 154.1L83.7 154.1L84.2 154.2L84.7 154.2L85.2 154.2L85.7 154.3L86.2 154.3L86.7 154.3L87.2 154.3L87.7 154.4L88.2 154.4L88.7 154.4L89.2 154.5L89.7 154.5L90.2 154.5L90.7 154.5L91.2 154.6L91.7 154.6L92.2 154.6L92.7 154.7L93.2 154.7L93.7 154.7L94.2 154.7L94.7 154.8L95.2 154.8L95.7 154.8L96.2 154.9L96.7 154.9L97.2 154.9L97.7 154.9L98.2 155.0L98.7 155.0L99.2 155.0L99.7 155.1L100.2 155.1L100.7 155.1L101.2 155.1L101.7 155.2L102.2 155.2L102.7 155.2L103.2 155.2L103.7 155.3L104.2 155.3L104.7 155.3L105.2 155.4L105.7 155.4L106.2 155.4L106.7 155.4L107.2 155.5L107.7 155.5L108.2 155.5L108.7 155.5L109.2 155.6L109.7 155.6L110.2 155.6L110.7 155.7L111.2 155.7L111.7 155.7L112.2 155.7L112.7 155.8L113.2 155.8L113.7 155.8L114.2 155.9L114.7 155.9L115.2 155.9L115.7 155.9L116.2 156.0L116.7 156.0L117.2 156.0L117.7 156.0L118.2 156.1L118.7 156.1L119.2 156.1L119.7 156.1L120.2 156.2L120.7 156.2L121.2 156.2L121.7 156.3L122.2 156.3L122.7 156.3L123.2 156.3L123.7 156.4L124.2 156.4L124.7 156.4L125.2 156.4L125.7 156.5L126.2 156.5L126.7 156.5L127.2 156.5L127.7 156.6L128.2 156.6L128.7 156.6L129.2 156.7L129.7 156.7L130.2 156.7L130.7 156.7L131.2 156.8L131.7 156.8L132.2 156.8L132.7 156.8L133.2 156.9L133.7 156.9L134.2 156.9L134.7 156.9L135.2 157.0L135.7 157.0L136.2 157.0L136.7 157.0L137.2 157.1L137.7 157.1L138.2 157.1L138.7 157.1L139.2 157.2L139.7 157.2L140.2 157.2L140.7 157.2L141.2 157.3L141.7 157.3L142.2 157.3L142.7 157.3L143.2 157.4L143.7 157.4L144.2 157.4L144.7 157.4L145.2 157.5L145.7 157.5L146.2 157.5L146.7 157.5L147.2 157.6L147.7 157.6L148.2 157.6L148.7 157.6L149.2 157.6L149.7 157.7L150.2 157.7L150.7 157.7L151.2 157.7L151.7 157.8L152.2 157.8L152.7 157.8L153.2 157.8L153.7 157.9L154.2 157.9L154.7 157.9L155.2 157.9L155.7 158.0L156.2 158.0L156.7 158.0L157.2 158.0L157.7 158.1L158.2 158.1L158.7 158.1L159.2 158.1L159.7 158.2L160.2 158.2L160.7 158.2L161.2 158.2L161.7 158.2L162.2 158.3L162.7 158.3L163.2 158.3L163.7 158.3L164.2 158.4L164.7 158.4L165.2 158.4L165.7 158.4L166.2 158.5L166.7 158.5L167.2 158.5L167.7 158.5L168.2 158.6L168.7 158.6L169.2 158.6L169.7 158.6L170.2 158.7L170.7 158.7L171.2 158.7L171.7 158.7L172.2 158.8L172.7 158.8L173.2 158.8L173.7 158.8L174.2 158.9L174.7 158.9L175.2 158.9L175.7 158.9L176.2 159.0L176.7 159.0L177.2 159.0L177.7 159.0L178.2 159.1L178.7 159.1L179.2 159.1L179.7 159.1L180.2 159.2L180.7 159.2L181.2 159.2L181.7 159.2L182.2 159.3L182.7 159.3L183.2 159.3L183.7 159.3L184.2 159.4L184.7 159.4L185.2 159.4L185.7 159.4L186.2 159.5L186.7 159.5L187.2 159.5L187.7 159.6L188.2 159.6L188.7 159.6L189.2 159.6L189.7 159.7L190.2 159.7L190.7 159.7L191.2 159.7L191.7 159.8L192.2 159.8L192.7 159.8L193.2 159.8L193.7 159.9L194.2 159.9L194.7 159.9L195.2 160.0L195.7 160.0L196.2 160.0L196.7 160.0L197.2 160.1L197.7 160.1L198.2 160.1L198.7 160.1L199.2 160.2L199.7 160.2L200.2 160.2L200.7 160.3L201.2 160.3L201.7 160.3L202.2 160.3L202.7 160.4L203.2 160.4L203.7 160.4L204.2 160.5L204.7 160.5L205.2 160.5L205.7 160.5L206.2 160.6L206.7 160.6L207.2 160.6L207.7 160.6L208.2 160.7L208.7 160.7L209.2 160.7L209.7 160.8L210.2 160.8L210.7 160.8L211.2 160.8L211.7 160.9L212.2 160.9L212.7 160.9L213.2 160.9L213.7 161.0L214.2 161.0L214.7 161.0L215.2 161.1L215.7 161.1L216.2 161.1L216.7 161.1L217.2 161.2L217.7 161.2L218.2 161.2L218.7 161.3L219.2 161.3L219.7 161.3L220.2 161.3L220.7 161.4L221.2 161.4L221.7 161.4L222.2 161.5L222.7 161.5L223.2 161.5L223.7 161.5L224.2 161.6L224.7 161.6L225.2 161.6L225.7 161.7L226.2 161.7L226.7 161.7L227.2 161.8L227.7 161.8L228.2 161.8L228.7 161.8L229.2 161.9L229.7 161.9L230.2 161.9L230.7 162.0L231.2 162.0L231.7 162.0L232.2 162.1L232.7 162.1L233.2 162.1L233.7 162.1L234.2 162.2L234.7 162.2L235.2 162.2L235.7 162.3L236.2 162.3L236.7 162.3L237.2 162.4L237.7 162.4L238.2 162.4L238.7 162.5L239.2 162.5L239.7 162.5L240.2 162.5L240.7 162.6L241.2 162.6L241.7 162.6L242.2 162.7L242.7 162.7L243.2 162.7L243.7 162.8L244.2 162.8L244.7 162.8L245.2 162.9L245.7 162.9L246.2 162.9L246.7 163.0L247.2 163.0L247.7 163.0L248.2 163.1L248.7 163.1L249.2 163.1L249.7 163.2L250.2 163.2L250.7 163.2L251.2 163.3L251.7 163.3L252.2 163.3L252.7 163.4L253.2 163.4L253.7 163.4L254.2 163.5L254.7 163.5L255.2 163.5L255.7 163.6L256.2 163.6L256.7 163.7L257.2 163.7L257.7 163.7L258.2 163.8L258.7 163.8L259.2 163.8L259.7 163.9L260.2 163.9L260.7 163.9L261.2 164.0L261.7 164.0L262.2 164.1L262.7 164.1L263.2 164.1L263.7 164.2L264.2 164.2L264.7 164.3L265.2 164.3L265.7 164.3L266.2 164.4L266.7 164.4L267.2 164.5L267.7 164.5L268.2 164.5L268.7 164.6L269.2 164.6L269.7 164.7L270.2 164.7L270.7 164.8L271.2 164.8L271.7 164.8L272.2 164.9L272.7 164.9L273.2 165.0L273.7 165.0L274.2 165.1L274.7 165.1L275.2 165.2L275.7 165.2L276.2 165.3L276.7 165.3L277.2 165.4L277.7 165.5L278.2 165.5L278.7 165.6L279.2 165.6L279.7 165.7L280.2 165.8L280.7 165.8L281.2 165.9L281.7 166.0L282.2 166.0L282.7 166.1L283.2 166.2L283.7 166.2L284.2 166.3L284.7 166.4L285.2 166.4L285.7 166.5L286.2 166.5L286.7 166.6L287.2 166.6L287.7 166.7L288.2 166.7L288.7 166.8L289.2 166.8L289.7 166.9L290.2 166.9L290.7 167.0L291.2 167.0L291.7 167.0L292.2 167.1L292.7 167.1L293.2 167.1L293.7 167.2L294.2 167.2L294.7 167.2L295.2 167.3L295.7 167.3L296.2 167.4L296.7 167.4L297.2 167.4L297.7 167.5L298.2 167.5L298.7 167.6L299.2 167.6L299.7 167.6L300.2 167.7L300.7 167.7L301.2 167.8L301.7 167.8L302.2 167.9L302.7 167.9L303.2 168.0L303.7 168.0L304.2 168.0L304.7 168.1L305.2 168.1L305.7 168.2L306.2 168.2L306.7 168.3L307.2 168.3L307.7 168.4L308.2 168.5L308.7 168.5L309.2 168.6L309.7 168.7L310.2 168.8L310.7 168.9L311.2 169.1L311.7 169.4L312.2 169.9L312.7 170.4L313.2 170.8L313.7 171.0L314.2 171.0L314.7 171.0L315.2 171.0L315.7 171.0L316.2 171.0L316.7 170.8L317.2 170.5L317.7 170.2L318.2 169.8L318.7 169.7L319.2 169.7L319.7 169.7L320.2 169.7L320.7 169.7L321.2 169.7L321.7 169.7L322.2 169.7L322.7 169.7L323.2 169.7L323.7 169.7L324.2 169.7L324.7 169.7L325.2 169.7L325.7 169.7L326.2 169.7L326.7 169.7L327.2 169.7L327.7 169.7L328.2 169.7L328.7 169.7L329.2 169.7L329.7 169.7L330.2 169.7L330.7 169.7L331.2 169.7L331.7 169.7L332.2 169.7L332.7 169.7L333.2 169.7L333.7 169.6L334.2 169.5L334.7 169.4L335.2 169.3L335.7 169.1L336.2 168.9L336.7 168.7L337.2 168.5L337.7 168.3L338.2 168.1L338.7 168.0L339.2 167.8L339.7 167.7L340.2 167.5L340.7 167.4L341.2 167.2L341.7 167.0L342.2 166.9L342.7 166.8L343.2 166.6L343.7 166.6L344.2 166.5L344.7 166.4L345.2 166.4L345.7 166.4L346.2 166.4L346.7 166.3L347.2 166.3L347.7 166.3L348.2 166.3L348.7 166.2L349.2 166.2L349.7 166.2L350.2 166.2L350.7 166.2L351.2 166.2L351.7 166.2L352.2 166.2L352.7 166.2L353.2 166.2L353.7 166.2L354.2 166.2L354.7 166.2L355.2 166.2L355.7 166.2L356.2 166.2L356.7 166.3L357.2 166.3L357.7 166.3L358.2 166.3L358.7 166.3L359.2 166.4L359.7 166.4L360.2 166.4L360.7 166.4L361.2 166.5L361.7 166.5L362.2 166.5L362.7 166.6L363.2 166.6L363.7 166.6L364.2 166.7L364.7 166.7L365.2 166.7L365.7 166.8L366.2 166.9L366.7 167.0L367.2 167.1L367.7 167.1L368.2 167.1L368.7 167.1L369.2 167.1L369.7 167.1L370.2 167.1L370.7 167.1L371.2 167.1L371.7 167.1L372.2 167.1L372.7 167.1L373.2 167.1L373.7 167.1L374.2 167.1L374.7 167.1L375.2 167.1L375.7 167.1L376.2 167.1L376.7 167.1L377.2 167.1L377.7 167.1L378.2 167.1L378.7 167.1L379.2 167.1L379.7 167.1L380.2 167.1L380.7 167.1L381.2 167.1L381.7 167.0L382.2 166.9L382.7 166.7L383.2 166.5L383.7 166.2L384.2 166.0L384.7 165.6L385.2 165.2L385.7 164.7L386.2 164.3L386.7 163.8L387.2 163.5L387.7 163.3L388.2 163.0L388.7 162.8L389.2 162.6L389.7 162.3L390.2 162.1L390.7 161.9L391.2 161.8L391.7 161.6L392.2 161.5L392.7 161.4L393.2 161.4L393.7 161.3L394.2 161.3L394.7 161.4L395.2 161.4L395.7 161.4L396.2 161.4L396.7 161.4L397.2 161.4L397.7 161.4L398.2 161.4L398.7 161.4L399.2 161.4L399.7 161.5L400.2 161.5L400.7 161.5L401.2 161.5L401.7 161.5L402.2 161.5L402.7 161.5L403.2 161.6L403.7 161.6L404.2 161.6L404.7 161.6L405.2 161.6L405.7 161.6L406.2 161.6L406.7 161.6L407.2 161.6L407.7 161.6L408.2 161.5L408.7 161.5L409.2 161.5L409.7 161.4L410.2 161.3L410.7 161.3L411.2 161.2L411.7 161.1L412.2 161.1L412.7 161.0L413.2 160.9L413.7 160.8L414.2 160.7L414.7 160.6L415.2 160.5L415.7 160.3L416.2 160.2L416.7 160.0L417.2 159.8L417.7 159.7L418.2 159.6L418.7 159.4L419.2 159.3L419.7 159.2L420.2 159.1L420.7 159.0L421.2 158.9L421.7 158.9L422.2 158.8L422.7 158.7L423.2 158.6L423.7 158.5L424.2 158.5L424.7 158.4L425.2 158.4L425.7 158.4L426.2 158.4L426.7 158.4L427.2 158.4L427.7 158.4L428.2 158.4L428.7 158.4L429.2 158.4L429.7 158.4L430.2 158.4L430.7 158.4L431.2 158.5L431.7 158.5L432.2 158.5L432.7 158.5L433.2 158.5L433.7 158.5L434.2 158.6L434.7 158.6L435.2 158.6L435.7 158.6L436.2 158.6L436.7 158.7L437.2 158.7L437.7 158.7L438.2 158.7L438.7 158.7L439.2 158.8L439.7 158.8L440.2 158.8L440.7 158.8L441.2 158.9L441.7 158.9L442.2 158.9L442.7 158.9L443.2 158.9L443.7 159.0L444.2 159.0L444.7 159.0L445.2 159.0L445.7 159.1L446.2 159.1L446.7 159.1L447.2 159.2L447.7 159.2L448.2 159.2L448.7 159.2L449.2 159.1L449.7 159.1L450.2 159.1L450.7 159.0L451.2 159.0L451.7 158.9L452.2 158.9L452.7 158.8L453.2 158.7L453.7 158.6L454.2 158.6L454.7 158.4L455.2 158.3L455.7 158.1L456.2 157.9L456.7 157.6L457.2 157.4L457.7 157.3L458.2 157.2L458.7 157.2L459.2 157.2L459.7 157.2L460.2 157.1L460.7 157.1L461.2 157.1L461.7 157.1L462.2 157.1L462.7 157.1L463.2 157.0L463.7 157.0L464.2 157.0L464.7 157.0L465.2 157.0L465.7 157.0L466.2 157.0L466.7 157.0L467.2 157.0L467.7 157.0L468.2 157.0L468.7 156.9L469.2 156.9L469.7 156.9L470.2 156.9L470.7 156.9L471.2 156.9L471.7 156.9L472.2 156.9L472.7 156.9L473.2 156.9L473.7 156.9L474.2 156.9L474.7 156.8L475.2 156.8L475.7 156.8L476.2 156.8L476.7 156.8L477.2 156.8L477.7 156.8L478.2 156.8L478.7 156.8L479.2 156.8L479.7 156.8L480.2 156.7L480.7 156.7L481.2 156.7L481.7 156.7L482.2 156.7L482.7 156.7L483.2 156.7L483.7 156.7L484.2 156.7L484.7 156.7L485.2 156.6L485.7 156.6L486.2 156.6L486.7 156.6L487.2 156.6L487.7 156.6L488.2 156.5L488.7 156.5L489.2 156.5L489.7 156.4L490.2 156.4L490.7 156.4L491.2 156.3L491.7 156.3L492.2 156.3L492.7 156.2L493.2 156.2L493.7 156.1L494.2 156.1L494.7 156.1L495.2 156.0L495.7 156.0L496.2 155.9L496.7 155.9L497.2 155.9L497.7 155.8L498.2 155.8L498.7 155.8L499.2 155.7L499.7 155.7L500.2 155.7L500.7 155.6L501.2 155.6L501.7 155.6L502.2 155.5L502.7 155.5L503.2 155.5L503.7 155.4L504.2 155.4L504.7 155.4L505.2 155.3L505.7 155.3L506.2 155.3L506.7 155.3L507.2 155.2L507.7 155.2L508.2 155.2L508.7 155.1L509.2 155.1L509.7 155.1L510.2 155.0L510.7 155.0L511.2 155.0L511.7 155.0L512.2 154.9L512.7 154.9L513.2 154.9L513.7 154.9L514.2 154.8L514.7 154.8L515.2 154.8L515.7 154.8L516.2 154.7L516.7 154.7L517.2 154.7L517.7 154.7L518.2 154.6L518.7 154.6L519.2 154.6L519.7 154.6L520.2 154.5L520.7 154.5L521.2 154.5L521.7 154.5L522.2 154.4L522.7 154.4L523.2 154.4L523.7 154.4L524.2 154.3L524.7 154.3L525.2 154.3L525.7 154.2L526.2 154.2L526.7 154.2L527.2 154.2L527.7 154.1L528.2 154.1L528.7 154.1L529.2 154.0L529.7 154.0L530.2 154.0L530.7 154.0L531.2 153.9L531.7 153.9L532.2 153.9L532.7 153.8L533.2 153.8L533.7 153.8L534.2 153.8L534.7 153.7L535.2 153.7L535.7 153.7L536.2 153.7L536.7 153.7L537.2 153.6L537.7 153.6L538.2 153.6L538.7 153.6L539.2 153.5L539.7 153.5L540.2 153.5L540.7 153.5L541.2 153.4L541.7 153.4L542.2 153.4L542.7 153.4L543.2 153.3L543.7 153.3L544.2 153.3L544.7 153.3L545.2 153.2L545.7 153.2L546.2 153.2L546.7 153.2L547.2 153.1L547.7 153.1L548.2 153.1L548.7 153.1L549.2 153.0L549.7 153.0L550.2 153.0L550.7 153.0L551.2 152.9L551.7 152.9L552.2 152.9L552.7 152.9L553.2 152.8L553.7 152.8L554.2 152.8L554.7 152.7L555.2 152.7L555.7 152.7L556.2 152.7L556.7 152.6L557.2 152.6L557.7 152.5L558.2 152.5L558.7 152.5L559.2 152.4L559.7 152.4L560.2 152.3L560.7 152.3L561.2 152.2L561.7 152.1L562.2 152.0L562.7 151.9L563.2 151.8L563.7 151.7L564.2 151.6L564.7 151.4L565.2 151.3L565.7 151.2L566.2 151.1L566.7 151.0L567.2 150.9L567.7 150.8L568.2 150.7L568.7 150.6L569.2 150.5L569.7 150.5L570.2 150.4L570.7 150.3L571.2 150.2L571.7 150.1L572.2 150.0L572.7 149.9L573.2 149.9L573.7 149.8L574.2 149.8L574.7 149.8L575.2 149.8L575.7 149.8L576.2 149.8L576.7 149.8L577.2 149.8L577.7 149.8L578.2 149.8L578.7 149.8L579.2 149.8L579.7 149.8L580.2 149.8L580.7 149.8L581.2 149.8L581.7 149.8L582.2 149.8L582.7 149.8L583.2 149.8L583.7 149.8L584.2 149.8L584.7 149.8L585.2 149.8L585.7 149.8L586.2 149.8L586.7 149.8L587.2 149.8L587.7 149.9L588.2 149.9L588.7 149.9L589.2 149.9L589.7 149.9L590.2 149.9L590.7 150.0L591.2 150.0L591.7 150.0L592.2 150.0L592.7 150.0L593.2 150.0L593.7 150.1L594.2 150.1L594.7 150.1L595.2 150.1L595.7 150.2L596.2 150.2L596.7 150.2L597.2 150.2L597.7 150.2L598.2 150.2L598.7 150.3L599.2 150.3L599.7 150.3L600.2 150.3L600.7 150.4L601.2 150.4L601.7 150.4L602.2 150.4L602.7 150.4L603.2 150.5L603.7 150.5L604.2 150.5L604.7 150.5L605.2 150.6L605.7 150.6L606.2 150.6L606.7 150.6L607.2 150.7L607.7 150.7L608.2 150.7L608.7 150.7L609.2 150.8L609.7 150.8L610.2 150.8L610.7 150.9L611.2 150.9L611.7 150.9L612.2 150.9L612.7 151.0L613.2 151.0L613.7 151.0L614.2 151.1L614.7 151.1L615.2 151.1L615.7 151.2L616.2 151.2L616.7 151.2L617.2 151.3L617.6 151.3" stroke="#a00000" stroke-width="2"/><path class="ln" d="M67.7 187.8L68.2 188.0L68.7 188.2L69.2 188.5L69.7 188.7L70.2 189.0L70.7 189.3L71.2 189.5L71.7 189.8L72.2 190.0L72.7 190.3L73.2 190.5L73.7 190.8L74.2 191.1L74.7 191.3L75.2 191.6L75.7 191.9L76.2 192.1L76.7 192.4L77.2 192.7L77.7 192.9L78.2 193.2L78.7 193.5L79.2 193.8L79.7 194.1L80.2 194.4L80.7 194.7L81.2 195.0L81.7 195.2L82.2 195.5L82.7 195.8L83.2 196.1L83.7 196.3L84.2 196.6L84.7 196.9L85.2 197.1L85.7 197.3L86.2 197.6L86.7 197.8L87.2 198.0L87.7 198.2L88.2 198.5L88.7 198.7L89.2 198.9L89.7 199.1L90.2 199.3L90.7 199.5L91.2 199.7L91.7 199.9L92.2 200.1L92.7 200.4L93.2 200.6L93.7 200.8L94.2 201.1L94.7 201.3L95.2 201.5L95.7 201.8L96.2 202.0L96.7 202.2L97.2 202.4L97.7 202.6L98.2 202.8L98.7 202.9L99.2 203.0L99.7 203.1L100.2 203.2L100.7 203.2L101.2 203.3L101.7 203.3L102.2 203.4L102.7 203.4L103.2 203.4L103.7 203.5L104.2 203.5L104.7 203.5L105.2 203.6L105.7 203.6L106.2 203.7L106.7 203.8L107.2 203.9L107.7 204.1L108.2 204.4L108.7 204.7L109.2 205.2L109.7 205.6L110.2 206.0L110.7 206.4L111.2 206.7L111.7 206.9L112.2 207.0L112.7 207.1L113.2 207.2L113.7 207.2L114.2 207.3L114.7 207.3L115.2 207.4L115.7 207.4L116.2 207.5L116.7 207.5L117.2 207.6L117.7 207.6L118.2 207.7L118.7 207.8L119.2 207.9L119.7 208.1L120.2 208.3L120.7 208.6L121.2 208.9L121.7 209.2L122.2 209.6L122.7 209.9L123.2 210.3L123.7 210.6L124.2 210.9L124.7 211.2L125.2 211.4L125.7 211.5L126.2 211.7L126.7 211.8L127.2 211.9L127.7 212.0L128.2 212.1L128.7 212.2L129.2 212.3L129.7 212.4L130.2 212.5L130.7 212.7L131.2 212.9L131.7 213.1L132.2 213.5L132.7 213.9L133.2 214.3L133.7 214.8L134.2 215.3L134.7 215.7L135.2 216.1L135.7 216.3L136.2 216.5L136.7 216.7L137.2 216.9L137.7 217.0L138.2 217.1L138.7 217.3L139.2 217.4L139.7 217.6L140.2 217.8L140.7 218.1L141.2 218.4L141.7 218.7L142.2 219.1L142.7 219.4L143.2 219.8L143.7 220.1L144.2 220.4L144.7 220.6L145.2 220.8L145.7 220.9L146.2 221.0L146.7 221.1L147.2 221.2L147.7 221.2L148.2 221.3L148.7 221.4L149.2 221.5L149.7 221.7L150.2 221.9L150.7 222.2L151.2 222.5L151.7 222.9L152.2 223.3L152.7 223.6L153.2 223.9L153.7 224.2L154.2 224.4L154.7 224.6L155.2 224.7L155.7 224.9L156.2 225.0L156.7 225.2L157.2 225.3L157.7 225.5L158.2 225.7L158.7 225.8L159.2 226.0L159.7 226.2L160.2 226.5L160.7 226.7L161.2 226.9L161.7 227.2L162.2 227.4L162.7 227.7L163.2 227.9L163.7 228.1L164.2 228.4L164.7 228.6L165.2 228.8L165.7 229.0L166.2 229.2L166.7 229.4L167.2 229.6L167.7 229.8L168.2 230.0L168.7 230.1L169.2 230.3L169.7 230.5L170.2 230.7L170.7 230.8L171.2 231.0L171.7 231.1L172.2 231.3L172.7 231.4L173.2 231.5L173.7 231.7L174.2 231.8L174.7 232.0L175.2 232.2L175.7 232.4L176.2 232.6L176.7 232.8L177.2 233.0L177.7 233.3L178.2 233.5L178.7 233.7L179.2 234.0L179.7 234.2L180.2 234.4L180.7 234.6L181.2 234.8L181.7 235.0L182.2 235.2L182.7 235.4L183.2 235.5L183.7 235.7L184.2 235.9L184.7 236.1L185.2 236.2L185.7 236.4L186.2 236.6L186.7 236.7L187.2 236.9L187.7 237.1L188.2 237.2L188.7 237.4L189.2 237.6L189.7 237.7L190.2 237.9L190.7 238.1L191.2 238.2L191.7 238.4L192.2 238.6L192.7 238.8L193.2 239.1L193.7 239.3L194.2 239.5L194.7 239.7L195.2 239.9L195.7 240.1L196.2 240.2L196.7 240.2L197.2 240.3L197.7 240.4L198.2 240.4L198.7 240.5L199.2 240.6L199.7 240.6L200.2 240.7L200.7 240.8L201.2 241.0L201.7 241.1L202.2 241.2L202.7 241.4L203.2 241.5L203.7 241.7L204.2 241.8L204.7 241.8L205.2 241.7L205.7 241.6L206.2 241.4L206.7 241.3L207.2 241.0L207.7 240.5L208.2 239.7L208.7 238.7L209.2 237.6L209.7 236.5L210.2 235.4L210.7 234.4L211.2 233.5L211.7 232.6L212.2 231.6L212.7 230.5L213.2 229.2L213.7 227.7L214.2 226.0L214.7 222.8L215.2 218.9L215.7 216.3L216.2 214.6L216.7 213.3L217.2 212.1L217.7 211.1L218.2 210.1L218.7 209.1L219.2 208.0L219.7 206.9L220.2 205.8L220.7 204.8L221.2 203.7L221.7 202.8L222.2 201.9L222.7 201.1L223.2 200.4L223.7 199.8L224.2 199.1L224.7 198.6L225.2 198.0L225.7 197.5L226.2 197.0L226.7 196.5L227.2 196.0L227.7 195.5L228.2 195.0L228.7 194.5L229.2 194.0L229.7 193.5L230.2 193.0L230.7 192.6L231.2 192.1L231.7 191.7L232.2 191.3L232.7 190.9L233.2 190.5L233.7 190.1L234.2 189.8L234.7 189.4L235.2 189.1L235.7 188.8L236.2 188.5L236.7 188.2L237.2 187.9L237.7 187.6L238.2 187.3L238.7 187.0L239.2 186.8L239.7 186.5L240.2 186.2L240.7 186.0L241.2 185.7L241.7 185.4L242.2 185.1L242.7 184.9L243.2 184.6L243.7 184.3L244.2 184.1L244.7 183.8L245.2 183.6L245.7 183.4L246.2 183.2L246.7 183.0L247.2 182.8L247.7 182.6L248.2 182.5L248.7 182.3L249.2 182.2L249.7 182.0L250.2 181.9L250.7 181.7L251.2 181.6L251.7 181.4L252.2 181.3L252.7 181.2L253.2 181.1L253.7 180.9L254.2 180.8L254.7 180.7L255.2 180.6L255.7 180.5L256.2 180.3L256.7 180.2L257.2 180.1L257.7 180.0L258.2 180.0L258.7 179.9L259.2 179.8L259.7 179.8L260.2 179.8L260.7 179.7L261.2 179.7L261.7 179.7L262.2 179.7L262.7 179.6L263.2 179.6L263.7 179.6L264.2 179.6L264.7 179.6L265.2 179.6L265.7 179.6L266.2 179.6L266.7 179.6L267.2 179.6L267.7 179.7L268.2 179.7L268.7 179.8L269.2 179.9L269.7 180.0L270.2 180.1L270.7 180.2L271.2 180.2L271.7 180.3L272.2 180.4L272.7 180.5L273.2 180.7L273.7 180.8L274.2 180.9L274.7 181.1L275.2 181.2L275.7 181.4L276.2 181.6L276.7 181.7L277.2 181.9L277.7 182.1L278.2 182.2L278.7 182.4L279.2 182.5L279.7 182.7L280.2 182.9L280.7 183.1L281.2 183.3L281.7 183.5L282.2 183.7L282.7 183.9L283.2 184.1L283.7 184.2L284.2 184.3L284.7 184.3L285.2 184.3L285.7 184.3L286.2 184.2L286.7 184.1L287.2 184.0L287.7 183.9L288.2 183.8L288.7 183.5L289.2 183.3L289.7 183.0L290.2 182.6L290.7 182.4L291.2 182.1L291.7 181.9L292.2 181.8L292.7 181.7L293.2 181.6L293.7 181.5L294.2 181.5L294.7 181.4L295.2 181.3L295.7 181.3L296.2 181.2L296.7 181.1L297.2 181.1L297.7 181.0L298.2 181.0L298.7 180.9L299.2 180.9L299.7 180.8L300.2 180.7L300.7 180.6L301.2 180.6L301.7 180.5L302.2 180.4L302.7 180.3L303.2 180.2L303.7 180.1L304.2 180.0L304.7 179.9L305.2 179.8L305.7 179.7L306.2 179.6L306.7 179.5L307.2 179.4L307.7 179.2L308.2 179.1L308.7 179.0L309.2 178.9L309.7 178.8L310.2 178.7L310.7 178.6L311.2 178.5L311.7 178.4L312.2 178.3L312.7 178.2L313.2 178.1L313.7 178.0L314.2 178.0L314.7 177.9L315.2 177.8L315.7 177.7L316.2 177.6L316.7 177.5L317.2 177.5L317.7 177.4L318.2 177.3L318.7 177.2L319.2 177.1L319.7 177.1L320.2 177.0L320.7 176.9L321.2 176.8L321.7 176.8L322.2 176.7L322.7 176.6L323.2 176.6L323.7 176.5L324.2 176.4L324.7 176.4L325.2 176.3L325.7 176.2L326.2 176.2L326.7 176.1L327.2 176.0L327.7 176.0L328.2 175.9L328.7 175.9L329.2 175.8L329.7 175.8L330.2 175.7L330.7 175.7L331.2 175.6L331.7 175.6L332.2 175.6L332.7 175.5L333.2 175.5L333.7 175.4L334.2 175.4L334.7 175.3L335.2 175.3L335.7 175.2L336.2 175.2L336.7 175.1L337.2 175.1L337.7 175.0L338.2 175.0L338.7 174.9L339.2 174.9L339.7 174.8L340.2 174.7L340.7 174.7L341.2 174.6L341.7 174.5L342.2 174.4L342.7 174.3L343.2 174.3L343.7 174.2L344.2 174.1L344.7 174.0L345.2 173.9L345.7 173.8L346.2 173.7L346.7 173.6L347.2 173.5L347.7 173.4L348.2 173.3L348.7 173.2L349.2 173.1L349.7 172.9L350.2 172.8L350.7 172.7L351.2 172.6L351.7 172.5L352.2 172.5L352.7 172.5L353.2 172.5L353.7 172.5L354.2 172.5L354.7 172.5L355.2 172.5L355.7 172.5L356.2 172.5L356.7 172.6L357.2 172.7L357.7 172.9L358.2 173.2L358.7 173.5L359.2 173.8L359.7 174.0L360.2 174.2L360.7 174.4L361.2 174.6L361.7 174.8L362.2 174.9L362.7 175.1L363.2 175.2L363.7 175.3L364.2 175.4L364.7 175.5L365.2 175.5L365.7 175.5L366.2 175.5L366.7 175.4L367.2 175.4L367.7 175.4L368.2 175.4L368.7 175.4L369.2 175.4L369.7 175.3L370.2 175.3L370.7 175.3L371.2 175.3L371.7 175.3L372.2 175.3L372.7 175.2L373.2 175.2L373.7 175.2L374.2 175.2L374.7 175.1L375.2 175.1L375.7 175.0L376.2 174.9L376.7 174.8L377.2 174.7L377.7 174.6L378.2 174.5L378.7 174.3L379.2 174.2L379.7 174.1L380.2 174.0L380.7 173.9L381.2 173.8L381.7 173.7L382.2 173.6L382.7 173.5L383.2 173.4L383.7 173.3L384.2 173.2L384.7 173.1L385.2 173.0L385.7 172.9L386.2 172.8L386.7 172.7L387.2 172.6L387.7 172.4L388.2 172.3L388.7 172.2L389.2 172.0L389.7 171.9L390.2 171.7L390.7 171.6L391.2 171.4L391.7 171.2L392.2 171.1L392.7 170.9L393.2 170.8L393.7 170.6L394.2 170.5L394.7 170.3L395.2 170.2L395.7 170.0L396.2 169.8L396.7 169.7L397.2 169.5L397.7 169.4L398.2 169.2L398.7 169.1L399.2 168.9L399.7 168.8L400.2 168.7L400.7 168.6L401.2 168.4L401.7 168.3L402.2 168.2L402.7 168.1L403.2 168.0L403.7 167.9L404.2 167.8L404.7 167.7L405.2 167.6L405.7 167.5L406.2 167.5L406.7 167.4L407.2 167.3L407.7 167.3L408.2 167.2L408.7 167.1L409.2 167.1L409.7 167.0L410.2 167.0L410.7 166.9L411.2 166.9L411.7 166.9L412.2 166.8L412.7 166.8L413.2 166.7L413.7 166.7L414.2 166.6L414.7 166.6L415.2 166.6L415.7 166.5L416.2 166.5L416.7 166.4L417.2 166.4L417.7 166.3L418.2 166.3L418.7 166.2L419.2 166.1L419.7 166.1L420.2 166.0L420.7 165.9L421.2 165.8L421.7 165.8L422.2 165.7L422.7 165.6L423.2 165.5L423.7 165.4L424.2 165.3L424.7 165.2L425.2 165.1L425.7 165.0L426.2 164.9L426.7 164.9L427.2 164.8L427.7 164.8L428.2 164.7L428.7 164.7L429.2 164.6L429.7 164.6L430.2 164.5L430.7 164.5L431.2 164.5L431.7 164.5L432.2 164.4L432.7 164.5L433.2 164.5L433.7 164.6L434.2 164.7L434.7 164.8L435.2 164.9L435.7 165.0L436.2 165.2L436.7 165.3L437.2 165.4L437.7 165.6L438.2 165.7L438.7 165.7L439.2 165.8L439.7 165.8L440.2 165.9L440.7 165.9L441.2 165.9L441.7 166.0L442.2 166.0L442.7 166.0L443.2 166.1L443.7 166.1L444.2 166.1L444.7 166.1L445.2 166.1L445.7 166.1L446.2 166.0L446.7 165.9L447.2 165.8L447.7 165.7L448.2 165.6L448.7 165.5L449.2 165.4L449.7 165.3L450.2 165.2L450.7 165.1L451.2 165.0L451.7 164.9L452.2 164.8L452.7 164.7L453.2 164.6L453.7 164.5L454.2 164.4L454.7 164.3L455.2 164.2L455.7 164.1L456.2 164.0L456.7 163.9L457.2 163.8L457.7 163.7L458.2 163.7L458.7 163.6L459.2 163.5L459.7 163.4L460.2 163.4L460.7 163.3L461.2 163.3L461.7 163.2L462.2 163.2L462.7 163.1L463.2 163.1L463.7 163.0L464.2 163.0L464.7 163.0L465.2 162.9L465.7 162.9L466.2 162.8L466.7 162.8L467.2 162.8L467.7 162.7L468.2 162.7L468.7 162.7L469.2 162.6L469.7 162.6L470.2 162.6L470.7 162.5L471.2 162.5L471.7 162.5L472.2 162.5L472.7 162.4L473.2 162.4L473.7 162.4L474.2 162.4L474.7 162.4L475.2 162.3L475.7 162.3L476.2 162.3L476.7 162.3L477.2 162.3L477.7 162.3L478.2 162.2L478.7 162.2L479.2 162.2L479.7 162.2L480.2 162.2L480.7 162.2L481.2 162.2L481.7 162.1L482.2 162.1L482.7 162.1L483.2 162.1L483.7 162.1L484.2 162.1L484.7 162.1L485.2 162.1L485.7 162.0L486.2 162.0L486.7 162.0L487.2 162.0L487.7 162.0L488.2 162.0L488.7 162.0L489.2 162.0L489.7 162.0L490.2 161.9L490.7 161.9L491.2 161.9L491.7 161.9L492.2 161.9L492.7 161.9L493.2 161.9L493.7 161.9L494.2 161.9L494.7 161.9L495.2 161.9L495.7 161.9L496.2 161.8L496.7 161.8L497.2 161.8L497.7 161.8L498.2 161.8L498.7 161.8L499.2 161.8L499.7 161.8L500.2 161.7L500.7 161.7L501.2 161.7L501.7 161.7L502.2 161.7L502.7 161.6L503.2 161.6L503.7 161.6L504.2 161.6L504.7 161.5L505.2 161.5L505.7 161.5L506.2 161.5L506.7 161.4L507.2 161.4L507.7 161.4L508.2 161.3L508.7 161.3L509.2 161.3L509.7 161.3L510.2 161.2L510.7 161.2L511.2 161.2L511.7 161.2L512.2 161.1L512.7 161.1L513.2 161.1L513.7 161.1L514.2 161.0L514.7 161.0L515.2 161.0L515.7 161.0L516.2 160.9L516.7 160.9L517.2 160.9L517.7 160.9L518.2 160.8L518.7 160.8L519.2 160.8L519.7 160.8L520.2 160.7L520.7 160.7L521.2 160.7L521.7 160.7L522.2 160.6L522.7 160.6L523.2 160.6L523.7 160.6L524.2 160.5L524.7 160.5L525.2 160.5L525.7 160.4L526.2 160.4L526.7 160.3L527.2 160.3L527.7 160.2L528.2 160.2L528.7 160.1L529.2 160.1L529.7 160.0L530.2 160.0L530.7 160.0L531.2 159.9L531.7 159.9L532.2 159.9L532.7 159.8L533.2 159.8L533.7 159.8L534.2 159.7L534.7 159.7L535.2 159.7L535.7 159.6L536.2 159.6L536.7 159.6L537.2 159.5L537.7 159.5L538.2 159.5L538.7 159.5L539.2 159.4L539.7 159.4L540.2 159.4L540.7 159.3L541.2 159.3L541.7 159.3L542.2 159.3L542.7 159.2L543.2 159.2L543.7 159.2L544.2 159.2L544.7 159.1L545.2 159.1L545.7 159.1L546.2 159.0L546.7 159.0L547.2 159.0L547.7 159.0L548.2 159.0L548.7 158.9L549.2 158.9L549.7 158.9L550.2 158.9L550.7 158.8L551.2 158.8L551.7 158.8L552.2 158.8L552.7 158.8L553.2 158.7L553.7 158.7L554.2 158.7L554.7 158.7L555.2 158.7L555.7 158.6L556.2 158.6L556.7 158.6L557.2 158.5L557.7 158.5L558.2 158.5L558.7 158.5L559.2 158.4L559.7 158.4L560.2 158.3L560.7 158.3L561.2 158.3L561.7 158.2L562.2 158.1L562.7 158.1L563.2 158.0L563.7 157.9L564.2 157.8L564.7 157.8L565.2 157.7L565.7 157.6L566.2 157.5L566.7 157.4L567.2 157.4L567.7 157.3L568.2 157.2L568.7 157.1L569.2 157.0L569.7 156.9L570.2 156.8L570.7 156.7L571.2 156.6L571.7 156.5L572.2 156.4L572.7 156.3L573.2 156.2L573.7 156.2L574.2 156.1L574.7 156.1L575.2 156.1L575.7 156.1L576.2 156.1L576.7 156.1L577.2 156.1L577.7 156.1L578.2 156.1L578.7 156.1L579.2 156.2L579.7 156.3L580.2 156.4L580.7 156.5L581.2 156.7L581.7 156.8L582.2 157.0L582.7 157.2L583.2 157.4L583.7 157.6L584.2 157.8L584.7 158.0L585.2 158.2L585.7 158.4L586.2 158.5L586.7 158.7L587.2 158.9L587.7 159.0L588.2 159.2L588.7 159.4L589.2 159.5L589.7 159.7L590.2 159.9L590.7 160.1L591.2 160.3L591.7 160.5L592.2 160.6L592.7 160.9L593.2 161.1L593.7 161.3L594.2 161.5L594.7 161.7L595.2 162.0L595.7 162.2L596.2 162.5L596.7 162.7L597.2 163.0L597.7 163.3L598.2 163.5L598.7 163.8L599.2 164.1L599.7 164.3L600.2 164.6L600.7 164.8L601.2 165.0L601.7 165.3L602.2 165.5L602.7 165.8L603.2 166.0L603.7 166.2L604.2 166.4L604.7 166.7L605.2 166.9L605.7 167.1L606.2 167.4L606.7 167.6L607.2 167.8L607.7 168.0L608.2 168.3L608.7 168.5L609.2 168.7L609.7 168.9L610.2 169.1L610.7 169.4L611.2 169.6L611.7 169.8L612.2 170.0L612.7 170.2L613.2 170.5L613.7 170.7L614.2 170.9L614.7 171.1L615.2 171.3L615.7 171.5L616.2 171.8L616.7 172.0L617.2 172.2L617.6 172.3" stroke="#900090" stroke-width="2"/><path class="ln" d="M67.5 383.5H617.2" stroke="#ff00ff" stroke-width="2.1"/><path class="ln" d="M67.4 357.6L67.9 357.6L68.4 357.6L68.9 357.6L69.4 357.6L69.9 357.6L70.4 357.6L70.9 357.6L71.4 357.6L71.9 357.7L72.4 357.7L72.9 357.7L73.4 357.7L73.9 357.7L74.4 357.7L74.9 357.7L75.4 357.7L75.9 357.7L76.4 357.7L76.9 357.7L77.4 357.7L77.9 357.7L78.4 357.7L78.9 357.7L79.4 357.7L79.9 357.7L80.4 357.7L80.9 357.8L81.4 357.8L81.9 357.8L82.4 357.8L82.9 357.8L83.4 357.8L83.9 357.8L84.4 357.8L84.9 357.8L85.4 357.8L85.9 357.8L86.4 357.8L86.9 357.8L87.4 357.8L87.9 357.8L88.4 357.8L88.9 357.8L89.4 357.8L89.9 357.9L90.4 357.9L90.9 357.9L91.4 357.9L91.9 357.9L92.4 357.9L92.9 357.9L93.4 357.9L93.9 357.9L94.4 357.9L94.9 357.9L95.4 357.9L95.9 357.9L96.4 357.9L96.9 357.9L97.4 357.9L97.9 357.9L98.4 358.0L98.9 358.0L99.4 358.0L99.9 358.0L100.4 358.0L100.9 358.0L101.4 358.0L101.9 358.0L102.4 358.0L102.9 358.0L103.4 358.0L103.9 358.0L104.4 358.0L104.9 358.0L105.4 358.0L105.9 358.0L106.4 358.0L106.9 358.0L107.4 358.1L107.9 358.1L108.4 358.1L108.9 358.1L109.4 358.1L109.9 358.1L110.4 358.1L110.9 358.1L111.4 358.1L111.9 358.1L112.4 358.1L112.9 358.1L113.4 358.1L113.9 358.1L114.4 358.1L114.9 358.1L115.4 358.1L115.9 358.2L116.4 358.2L116.9 358.2L117.4 358.2L117.9 358.2L118.4 358.2L118.9 358.2L119.4 358.2L119.9 358.2L120.4 358.2L120.9 358.2L121.4 358.2L121.9 358.2L122.4 358.2L122.9 358.2L123.4 358.2L123.9 358.2L124.4 358.3L124.9 358.3L125.4 358.3L125.9 358.3L126.4 358.3L126.9 358.3L127.4 358.3L127.9 358.3L128.4 358.3L128.9 358.3L129.4 358.3L129.9 358.3L130.4 358.3L130.9 358.3L131.4 358.3L131.9 358.3L132.4 358.3L132.9 358.3L133.4 358.4L133.9 358.4L134.4 358.4L134.9 358.4L135.4 358.4L135.9 358.4L136.4 358.4L136.9 358.4L137.4 358.4L137.9 358.4L138.4 358.4L138.9 358.4L139.4 358.4L139.9 358.4L140.4 358.4L140.9 358.4L141.4 358.4L141.9 358.5L142.4 358.5L142.9 358.5L143.4 358.5L143.9 358.5L144.4 358.5L144.9 358.5L145.4 358.5L145.9 358.5L146.4 358.5L146.9 358.5L147.4 358.5L147.9 358.5L148.4 358.5L148.9 358.5L149.4 358.5L149.9 358.5L150.4 358.6L150.9 358.6L151.4 358.6L151.9 358.6L152.4 358.6L152.9 358.6L153.4 358.6L153.9 358.6L154.4 358.6L154.9 358.6L155.4 358.6L155.9 358.6L156.4 358.6L156.9 358.6L157.4 358.6L157.9 358.6L158.4 358.6L158.9 358.7L159.4 358.7L159.9 358.7L160.4 358.7L160.9 358.7L161.4 358.7L161.9 358.7L162.4 358.7L162.9 358.7L163.4 358.7L163.9 358.7L164.4 358.7L164.9 358.7L165.4 358.7L165.9 358.7L166.4 358.7L166.9 358.7L167.4 358.8L167.9 358.8L168.4 358.8L168.9 358.8L169.4 358.8L169.9 358.8L170.4 358.8L170.9 358.8L171.4 358.8L171.9 358.8L172.4 358.8L172.9 358.8L173.4 358.8L173.9 358.8L174.4 358.8L174.9 358.8L175.4 358.8L175.9 358.9L176.4 358.9L176.9 358.9L177.4 358.9L177.9 358.9L178.4 358.9L178.9 358.9L179.4 358.9L179.9 358.9L180.4 358.9L180.9 358.9L181.4 358.9L181.9 358.9L182.4 358.9L182.9 358.9L183.4 358.9L183.9 358.9L184.4 359.0L184.9 359.0L185.4 359.0L185.9 359.0L186.4 359.0L186.9 359.0L187.4 359.0L187.9 359.0L188.4 359.0L188.9 359.0L189.4 359.0L189.9 359.0L190.4 359.0L190.9 359.0L191.4 359.0L191.9 359.0L192.4 359.0L192.9 359.1L193.4 359.1L193.9 359.1L194.4 359.1L194.9 359.1L195.4 359.1L195.9 359.1L196.4 359.1L196.9 359.1L197.4 359.1L197.9 359.1L198.4 359.1L198.9 359.1L199.4 359.1L199.9 359.1L200.4 359.1L200.9 359.1L201.4 359.1L201.9 359.2L202.4 359.2L202.9 359.2L203.4 359.2L203.9 359.2L204.4 359.2L204.9 359.2L205.4 359.2L205.9 359.2L206.4 359.2L206.9 359.2L207.4 359.2L207.9 359.2L208.4 359.2L208.9 359.2L209.4 359.2L209.9 359.2L210.4 359.3L210.9 359.3L211.4 359.3L211.9 359.3L212.4 359.3L212.9 359.3L213.4 359.3L213.9 359.3L214.4 359.3L214.9 359.3L215.4 359.3L215.9 359.3L216.4 359.3L216.9 359.3L217.4 359.3L217.9 359.3L218.4 359.4L218.9 359.4L219.4 359.4L219.9 359.4L220.4 359.4L220.9 359.4L221.4 359.4L221.9 359.4L222.4 359.4L222.9 359.4L223.4 359.4L223.9 359.4L224.4 359.4L224.9 359.4L225.4 359.4L225.9 359.4L226.4 359.5L226.9 359.5L227.4 359.5L227.9 359.5L228.4 359.5L228.9 359.5L229.4 359.5L229.9 359.5L230.4 359.5L230.9 359.5L231.4 359.5L231.9 359.5L232.4 359.5L232.9 359.5L233.4 359.6L233.9 359.6L234.4 359.6L234.9 359.6L235.4 359.6L235.9 359.6L236.4 359.6L236.9 359.6L237.4 359.6L237.9 359.6L238.4 359.6L238.9 359.6L239.4 359.7L239.9 359.7L240.4 359.7L240.9 359.7L241.4 359.7L241.9 359.7L242.4 359.7L242.9 359.7L243.4 359.7L243.9 359.7L244.4 359.8L244.9 359.8L245.4 359.8L245.9 359.8L246.4 359.8L246.9 359.8L247.4 359.8L247.9 359.8L248.4 359.8L248.9 359.8L249.4 359.9L249.9 359.9L250.4 359.9L250.9 359.9L251.4 359.9L251.9 359.9L252.4 359.9L252.9 359.9L253.4 359.9L253.9 359.9L254.4 359.9L254.9 359.9L255.4 359.9L255.9 359.9L256.4 360.0L256.9 360.0L257.4 360.0L257.9 360.0L258.4 360.0L258.9 360.0L259.4 360.0L259.9 360.0L260.4 360.0L260.9 360.0L261.4 360.0L261.9 360.0L262.4 360.0L262.9 360.0L263.4 360.0L263.9 360.0L264.4 360.0L264.9 360.0L265.4 360.0L265.9 360.0L266.4 360.0L266.9 360.0L267.4 360.0L267.9 360.0L268.4 360.0L268.9 360.0L269.4 360.0L269.9 360.0L270.4 360.0L270.9 360.0L271.4 359.9L271.9 359.9L272.4 359.9L272.9 359.9L273.4 359.9L273.9 359.9L274.4 359.9L274.9 359.9L275.4 359.9L275.9 359.9L276.4 359.9L276.9 359.9L277.4 359.8L277.9 359.8L278.4 359.8L278.9 359.8L279.4 359.8L279.9 359.8L280.4 359.8L280.9 359.8L281.4 359.8L281.9 359.7L282.4 359.7L282.9 359.7L283.4 359.7L283.9 359.7L284.4 359.7L284.9 359.7L285.4 359.7L285.9 359.6L286.4 359.6L286.9 359.6L287.4 359.6L287.9 359.6L288.4 359.6L288.9 359.6L289.4 359.6L289.9 359.5L290.4 359.5L290.9 359.5L291.4 359.5L291.9 359.5L292.4 359.5L292.9 359.5L293.4 359.4L293.9 359.4L294.4 359.4L294.9 359.4L295.4 359.4L295.9 359.4L296.4 359.4L296.9 359.4L297.4 359.4L297.9 359.3L298.4 359.3L298.9 359.3L299.4 359.3L299.9 359.3L300.4 359.3L300.9 359.3L301.4 359.3L301.9 359.3L302.4 359.3L302.9 359.2L303.4 359.2L303.9 359.2L304.4 359.2L304.9 359.2L305.4 359.2L305.9 359.2L306.4 359.2L306.9 359.2L307.4 359.2L307.9 359.2L308.4 359.1L308.9 359.1L309.4 359.1L309.9 359.1L310.4 359.1L310.9 359.1L311.4 359.1L311.9 359.1L312.4 359.1L312.9 359.1L313.4 359.1L313.9 359.1L314.4 359.0L314.9 359.0L315.4 359.0L315.9 359.0L316.4 359.0L316.9 359.0L317.4 359.0L317.9 359.0L318.4 359.0L318.9 359.0L319.4 359.0L319.9 359.0L320.4 358.9L320.9 358.9L321.4 358.9L321.9 358.9L322.4 358.9L322.9 358.9L323.4 358.9L323.9 358.9L324.4 358.9L324.9 358.9L325.4 358.9L325.9 358.8L326.4 358.8L326.9 358.8L327.4 358.8L327.9 358.8L328.4 358.8L328.9 358.8L329.4 358.8L329.9 358.8L330.4 358.8L330.9 358.7L331.4 358.7L331.9 358.7L332.4 358.7L332.9 358.7L333.4 358.7L333.9 358.7L334.4 358.7L334.9 358.7L335.4 358.6L335.9 358.6L336.4 358.6L336.9 358.6L337.4 358.6L337.9 358.6L338.4 358.6L338.9 358.6L339.4 358.6L339.9 358.5L340.4 358.5L340.9 358.5L341.4 358.5L341.9 358.5L342.4 358.5L342.9 358.5L343.4 358.4L343.9 358.4L344.4 358.4L344.9 358.4L345.4 358.4L345.9 358.4L346.4 358.4L346.9 358.3L347.4 358.3L347.9 358.3L348.4 358.3L348.9 358.2L349.4 358.2L349.9 358.2L350.4 358.1L350.9 358.1L351.4 358.1L351.9 358.1L352.4 358.0L352.9 358.0L353.4 358.0L353.9 357.9L354.4 357.9L354.9 357.9L355.4 357.9L355.9 357.8L356.4 357.8L356.9 357.8L357.4 357.8L357.9 357.7L358.4 357.7L358.9 357.7L359.4 357.7L359.9 357.7L360.4 357.7L360.9 357.7L361.4 357.7L361.9 357.7L362.4 357.7L362.9 357.7L363.4 357.7L363.9 357.7L364.4 357.7L364.9 357.7L365.4 357.7L365.9 357.7L366.4 357.7L366.9 357.7L367.4 357.7L367.9 357.7L368.4 357.7L368.9 357.7L369.4 357.7L369.9 357.7L370.4 357.7L370.9 357.7L371.4 357.7L371.9 357.6L372.4 357.6L372.9 357.6L373.4 357.6L373.9 357.6L374.4 357.6L374.9 357.6L375.4 357.6L375.9 357.6L376.4 357.6L376.9 357.6L377.4 357.6L377.9 357.6L378.4 357.6L378.9 357.6L379.4 357.6L379.9 357.6L380.4 357.6L380.9 357.6L381.4 357.6L381.9 357.6L382.4 357.6L382.9 357.6L383.4 357.6L383.9 357.6L384.4 357.6L384.9 357.6L385.4 357.6L385.9 357.6L386.4 357.6L386.9 357.6L387.4 357.6L387.9 357.6L388.4 357.6L388.9 357.6L389.4 357.6L389.9 357.6L390.4 357.6L390.9 357.6L391.4 357.6L391.9 357.6L392.4 357.6L392.9 357.6L393.4 357.6L393.9 357.6L394.4 357.6L394.9 357.6L395.4 357.6L395.9 357.6L396.4 357.6L396.9 357.6L397.4 357.6L397.9 357.6L398.4 357.6L398.9 357.6L399.4 357.6L399.9 357.6L400.4 357.6L400.9 357.6L401.4 357.6L401.9 357.6L402.4 357.6L402.9 357.6L403.4 357.6L403.9 357.7L404.4 357.7L404.9 357.7L405.4 357.7L405.9 357.7L406.4 357.8L406.9 357.8L407.4 357.8L407.9 357.9L408.4 357.9L408.9 357.9L409.4 358.0L409.9 358.0L410.4 358.1L410.9 358.1L411.4 358.1L411.9 358.2L412.4 358.2L412.9 358.3L413.4 358.3L413.9 358.4L414.4 358.4L414.9 358.5L415.4 358.5L415.9 358.6L416.4 358.6L416.9 358.6L417.4 358.7L417.9 358.7L418.4 358.8L418.9 358.8L419.4 358.9L419.9 358.9L420.4 358.9L420.9 359.0L421.4 359.0L421.9 359.1L422.4 359.1L422.9 359.1L423.4 359.2L423.9 359.2L424.4 359.3L424.9 359.3L425.4 359.4L425.9 359.4L426.4 359.5L426.9 359.5L427.4 359.6L427.9 359.6L428.4 359.7L428.9 359.7L429.4 359.8L429.9 359.8L430.4 359.9L430.9 360.0L431.4 360.0L431.9 360.1L432.4 360.1L432.9 360.2L433.4 360.2L433.9 360.2L434.4 360.3L434.9 360.3L435.4 360.4L435.9 360.4L436.4 360.5L436.9 360.5L437.4 360.5L437.9 360.6L438.4 360.6L438.9 360.6L439.4 360.7L439.9 360.7L440.4 360.7L440.9 360.8L441.4 360.8L441.9 360.8L442.4 360.8L442.9 360.8L443.4 360.8L443.9 360.9L444.4 360.9L444.9 360.9L445.4 360.9L445.9 360.9L446.4 360.9L446.9 361.0L447.4 361.0L447.9 361.0L448.4 361.0L448.9 361.0L449.4 361.0L449.9 361.0L450.4 361.0L450.9 361.1L451.4 361.1L451.9 361.1L452.4 361.1L452.9 361.1L453.4 361.1L453.9 361.1L454.4 361.1L454.9 361.1L455.4 361.1L455.9 361.2L456.4 361.2L456.9 361.2L457.4 361.2L457.9 361.2L458.4 361.2L458.9 361.2L459.4 361.2L459.9 361.2L460.4 361.2L460.9 361.2L461.4 361.2L461.9 361.3L462.4 361.3L462.9 361.3L463.4 361.3L463.9 361.3L464.4 361.3L464.9 361.3L465.4 361.3L465.9 361.3L466.4 361.3L466.9 361.3L467.4 361.4L467.9 361.4L468.4 361.4L468.9 361.4L469.4 361.4L469.9 361.4L470.4 361.4L470.9 361.4L471.4 361.4L471.9 361.4L472.4 361.4L472.9 361.5L473.4 361.5L473.9 361.5L474.4 361.5L474.9 361.5L475.4 361.5L475.9 361.5L476.4 361.5L476.9 361.5L477.4 361.5L477.9 361.5L478.4 361.6L478.9 361.6L479.4 361.6L479.9 361.6L480.4 361.6L480.9 361.6L481.4 361.6L481.9 361.6L482.4 361.6L482.9 361.6L483.4 361.6L483.9 361.7L484.4 361.7L484.9 361.7L485.4 361.7L485.9 361.7L486.4 361.7L486.9 361.7L487.4 361.7L487.9 361.7L488.4 361.7L488.9 361.7L489.4 361.8L489.9 361.8L490.4 361.8L490.9 361.8L491.4 361.8L491.9 361.8L492.4 361.8L492.9 361.8L493.4 361.8L493.9 361.8L494.4 361.8L494.9 361.8L495.4 361.9L495.9 361.9L496.4 361.9L496.9 361.9L497.4 361.9L497.9 361.9L498.4 361.9L498.9 361.9L499.4 361.9L499.9 361.9L500.4 361.9L500.9 362.0L501.4 362.0L501.9 362.0L502.4 362.0L502.9 362.0L503.4 362.0L503.9 362.0L504.4 362.0L504.9 362.0L505.4 362.0L505.9 362.1L506.4 362.1L506.9 362.1L507.4 362.1L507.9 362.1L508.4 362.1L508.9 362.1L509.4 362.1L509.9 362.1L510.4 362.2L510.9 362.2L511.4 362.2L511.9 362.2L512.4 362.2L512.9 362.2L513.4 362.2L513.9 362.2L514.4 362.2L514.9 362.2L515.4 362.3L515.9 362.3L516.4 362.3L516.9 362.3L517.4 362.3L517.9 362.3L518.4 362.3L518.9 362.3L519.4 362.3L519.9 362.4L520.4 362.4L520.9 362.4L521.4 362.4L521.9 362.4L522.4 362.4L522.9 362.4L523.4 362.4L523.9 362.4L524.4 362.5L524.9 362.5L525.4 362.5L525.9 362.5L526.4 362.5L526.9 362.5L527.4 362.5L527.9 362.5L528.4 362.5L528.9 362.6L529.4 362.6L529.9 362.6L530.4 362.6L530.9 362.6L531.4 362.6L531.9 362.6L532.4 362.6L532.9 362.6L533.4 362.7L533.9 362.7L534.4 362.7L534.9 362.7L535.4 362.7L535.9 362.7L536.4 362.7L536.9 362.7L537.4 362.7L537.9 362.8L538.4 362.8L538.9 362.8L539.4 362.8L539.9 362.8L540.4 362.8L540.9 362.8L541.4 362.8L541.9 362.8L542.4 362.8L542.9 362.9L543.4 362.9L543.9 362.9L544.4 362.9L544.9 362.9L545.4 362.9L545.9 362.9L546.4 362.9L546.9 362.9L547.4 363.0L547.9 363.0L548.4 363.0L548.9 363.0L549.4 363.0L549.9 363.0L550.4 363.0L550.9 363.0L551.4 363.0L551.9 363.0L552.4 363.1L552.9 363.1L553.4 363.1L553.9 363.1L554.4 363.1L554.9 363.1L555.4 363.1L555.9 363.1L556.4 363.1L556.9 363.1L557.4 363.2L557.9 363.2L558.4 363.2L558.9 363.2L559.4 363.2L559.9 363.2L560.4 363.2L560.9 363.2L561.4 363.2L561.9 363.2L562.4 363.3L562.9 363.3L563.4 363.3L563.9 363.3L564.4 363.3L564.9 363.3L565.4 363.3L565.9 363.3L566.4 363.3L566.9 363.3L567.4 363.4L567.9 363.4L568.4 363.4L568.9 363.4L569.4 363.4L569.9 363.4L570.4 363.4L570.9 363.4L571.4 363.4L571.9 363.4L572.4 363.5L572.9 363.5L573.4 363.5L573.9 363.5L574.4 363.5L574.9 363.5L575.4 363.5L575.9 363.5L576.4 363.5L576.9 363.5L577.4 363.5L577.9 363.6L578.4 363.6L578.9 363.6L579.4 363.6L579.9 363.6L580.4 363.6L580.9 363.6L581.4 363.6L581.9 363.6L582.4 363.6L582.9 363.7L583.4 363.7L583.9 363.7L584.4 363.7L584.9 363.7L585.4 363.7L585.9 363.7L586.4 363.7L586.9 363.7L587.4 363.7L587.9 363.8L588.4 363.8L588.9 363.8L589.4 363.8L589.9 363.8L590.4 363.8L590.9 363.8L591.4 363.8L591.9 363.8L592.4 363.9L592.9 363.9L593.4 363.9L593.9 363.9L594.4 363.9L594.9 363.9L595.4 363.9L595.9 363.9L596.4 363.9L596.9 364.0L597.4 364.0L597.9 364.0L598.4 364.0L598.9 364.0L599.4 364.0L599.9 364.0L600.4 364.0L600.9 364.1L601.4 364.1L601.9 364.1L602.4 364.1L602.9 364.1L603.4 364.1L603.9 364.1L604.4 364.1L604.9 364.2L605.4 364.2L605.9 364.2L606.4 364.2L606.9 364.2L607.4 364.2L607.9 364.2L608.4 364.2L608.9 364.3L609.4 364.3L609.9 364.3L610.4 364.3L610.9 364.3L611.4 364.3L611.9 364.3L612.4 364.4L612.9 364.4L613.4 364.4L613.9 364.4L614.4 364.4L614.9 364.4L615.4 364.4L615.9 364.5L616.4 364.5L616.9 364.5L617.4 364.5L617.6 364.5" stroke="#0000ff" stroke-width="2"/><path class="ln" d="M67.4 284.1L71.4 284.4L75.4 284.7L79.4 284.7L83.4 284.8L87.4 284.8L91.4 284.8L95.4 284.9L99.4 284.9L103.4 285.2L107.4 285.6L111.4 285.8L115.4 285.9L119.4 286.0L123.4 286.1L127.4 286.1L131.4 286.2L135.4 286.3L139.4 286.4L143.4 286.6L147.4 286.7L151.4 286.9L155.4 287.1L159.4 287.3L163.4 287.5L167.4 287.7L171.4 287.8L175.4 288.0L179.4 288.2L183.4 288.4L187.4 288.6L191.4 288.8L195.4 289.0L199.4 289.2L203.4 289.4L207.4 289.1L211.4 288.5L215.4 287.6L219.4 286.8L223.4 286.3L227.4 286.1L231.4 285.9L235.4 285.7L239.4 285.4L243.4 285.2L247.4 285.0L251.4 284.8L255.4 284.8L259.4 284.7L263.4 284.5L267.4 284.4L271.4 284.3L275.4 284.2L279.4 284.2L283.4 284.3L287.4 284.4L291.4 284.5L295.4 284.6L299.4 284.8L303.4 284.8L307.4 284.9L311.4 284.9L315.4 284.9L319.4 284.9L323.4 285.0L327.4 285.0L331.4 285.0L335.4 284.9L339.4 284.9L343.4 284.8L347.4 284.8L351.4 284.7L355.4 284.7L359.4 284.6L363.4 284.6L367.4 284.5L371.4 284.4L375.4 284.4L379.4 284.4L383.4 284.4L387.4 284.5L391.4 284.5L395.4 284.5L399.4 284.5L403.4 284.6L407.4 284.6L411.4 284.6L415.4 284.5L419.4 284.4L423.4 284.3L427.4 284.2L431.4 284.1L435.4 284.0L439.4 283.9L443.4 283.9L447.4 283.8L451.4 283.8L455.4 283.7L459.4 283.7L463.4 283.6L467.4 283.6L471.4 283.5L475.4 283.5L479.4 283.5L483.4 283.4L487.4 283.4L491.4 283.4L495.4 283.3L499.4 283.3L503.4 283.3L507.4 283.3L511.4 283.3L515.4 283.3L519.4 283.3L523.4 283.3L527.4 283.3L531.4 283.3L535.4 283.3L539.4 283.2L543.4 283.2L547.4 283.2L551.4 283.1L555.4 283.1L559.4 283.0L563.4 283.0L567.4 283.1L571.4 283.2L575.4 283.2L579.4 283.3L583.4 283.3L587.4 283.4L591.4 283.5L595.4 283.6L599.4 283.8L603.4 283.9L607.4 284.1L611.4 284.3L615.4 284.6L617.5 284.8" stroke="#d8d000" stroke-width="2"/><path class="ln" d="M149.7 302.0L150.4 305.8L151.3 309.7L153.0 309.7" stroke="#ff0000" stroke-width="2.4"/><path class="ln" d="M166.7 304.9L167.6 310.1L168.5 315.2L169.3 305.8L169.9 296.0" stroke="#ff0000" stroke-width="2.4"/><path class="ln" d="M175.0 305.4L175.7 310.9L176.3 315.2L176.9 307.5L177.5 298.6" stroke="#ff0000" stroke-width="2.4"/><path class="ln" d="M182.4 307.5L183.2 312.7L184.0 316.1L184.8 310.9L185.6 305.8" stroke="#ff0000" stroke-width="2.4"/><path class="ln" d="M189.7 308.5L190.4 312.7L191.3 316.5L192.5 313.1L193.9 309.7" stroke="#ff0000" stroke-width="2.4"/><path class="ln" d="M207.0 304.6L207.5 307.8L208.4 310.4L209.3 307.8L210.1 304.0" stroke="#ff0000" stroke-width="2.4"/><path class="ln" d="M67.4 283.8L75.0 284.4L90.0 284.5L104.5 284.6L105.6 284.7L106.3 301.5L106.8 305.4L107.5 305.8L108.0 299.8L108.3 294.2L109.6 292.9L110.7 285.3L115.2 284.7L118.5 284.7L119.0 301.5L119.3 306.2L120.3 307.1L121.0 303.2L121.6 297.6L122.5 296.3L123.3 285.3L127.2 285.0L129.5 285.2L130.3 295.5L130.9 306.6L132.0 307.9L133.0 306.8L133.7 297.2L134.4 286.2L137.5 285.7L140.1 286.0L141.2 297.2L142.1 305.8L142.9 306.6L143.7 306.5L144.8 297.2L145.7 286.5L147.4 286.4L148.7 286.5L149.4 294.6L150.0 301.7" stroke="#00ff00" stroke-width="2.4"/><path class="ln" d="M153.0 291.3L153.5 288.6L154.0 287.6L156.1 287.0L158.1 287.0L158.6 297.2L159.1 307.3L160.2 308.5L161.4 308.7L162.1 304.9L162.7 300.6L163.6 287.2L164.5 286.5L165.2 286.7L166.2 296.3L167.2 305.1" stroke="#00ff00" stroke-width="2.4"/><path class="ln" d="M169.5 295.6L170.7 290.3L171.9 287.0L172.7 286.7L173.7 287.0L174.4 296.3L175.0 305.1" stroke="#00ff00" stroke-width="2.4"/><path class="ln" d="M177.2 298.6L178.4 292.9L179.9 287.2L180.5 287.0L181.0 288.6L181.8 298.1L182.7 307.2" stroke="#00ff00" stroke-width="2.4"/><path class="ln" d="M184.9 305.4L185.8 296.3L186.6 288.8L187.2 288.1L187.9 288.4L188.9 298.1L190.0 308.5" stroke="#00ff00" stroke-width="2.4"/><path class="ln" d="M193.9 292.5L194.5 289.3L195.0 287.6L196.0 287.9L196.7 289.1L197.4 298.4L198.1 304.8L199.2 307.8L200.1 304.4L200.8 301.8L202.2 299.2L202.9 294.1L203.5 289.1L204.3 288.1L205.1 288.6L205.6 295.8L206.1 302.8L207.0 304.6" stroke="#00ff00" stroke-width="2.4"/><path class="ln" d="M209.9 303.7L210.8 300.1L211.3 297.7L211.8 291.5L212.3 288.7L214.2 287.7L221.1 286.8L232.3 286.3L245.0 286.2L256.6 285.3L277.0 284.0L295.0 283.8L330.0 284.0L375.0 283.4L410.0 283.6L440.0 282.6L470.0 282.0L500.0 281.6L535.0 281.5L560.0 281.2L590.0 281.6L610.0 282.4L617.5 283.0" stroke="#00ff00" stroke-width="2.4"/></g>
<g shape-rendering="auto"><path d="M84.50 32.5V383.5" stroke="#8f8f8f" stroke-opacity="0.19" stroke-width="1"/><path d="M95.50 32.5V383.5" stroke="#8f8f8f" stroke-opacity="0.19" stroke-width="1"/><path d="M107.50 32.5V383.5" stroke="#8f8f8f" stroke-opacity="0.19" stroke-width="1"/><path d="M130.50 32.5V383.5" stroke="#8f8f8f" stroke-opacity="0.19" stroke-width="1"/><path d="M141.50 32.5V383.5" stroke="#8f8f8f" stroke-opacity="0.19" stroke-width="1"/><path d="M152.50 32.5V383.5" stroke="#8f8f8f" stroke-opacity="0.19" stroke-width="1"/><path d="M175.50 32.5V383.5" stroke="#8f8f8f" stroke-opacity="0.19" stroke-width="1"/><path d="M187.50 32.5V383.5" stroke="#8f8f8f" stroke-opacity="0.19" stroke-width="1"/><path d="M198.50 32.5V383.5" stroke="#8f8f8f" stroke-opacity="0.19" stroke-width="1"/><path d="M221.50 32.5V383.5" stroke="#8f8f8f" stroke-opacity="0.19" stroke-width="1"/><path d="M233.50 32.5V383.5" stroke="#8f8f8f" stroke-opacity="0.19" stroke-width="1"/><path d="M244.50 32.5V383.5" stroke="#8f8f8f" stroke-opacity="0.19" stroke-width="1"/><path d="M267.50 32.5V383.5" stroke="#8f8f8f" stroke-opacity="0.19" stroke-width="1"/><path d="M279.50 32.5V383.5" stroke="#8f8f8f" stroke-opacity="0.19" stroke-width="1"/><path d="M290.50 32.5V383.5" stroke="#8f8f8f" stroke-opacity="0.19" stroke-width="1"/><path d="M313.50 32.5V383.5" stroke="#8f8f8f" stroke-opacity="0.19" stroke-width="1"/><path d="M324.50 32.5V383.5" stroke="#8f8f8f" stroke-opacity="0.19" stroke-width="1"/><path d="M336.50 32.5V383.5" stroke="#8f8f8f" stroke-opacity="0.19" stroke-width="1"/><path d="M359.50 32.5V383.5" stroke="#8f8f8f" stroke-opacity="0.19" stroke-width="1"/><path d="M370.50 32.5V383.5" stroke="#8f8f8f" stroke-opacity="0.19" stroke-width="1"/><path d="M382.50 32.5V383.5" stroke="#8f8f8f" stroke-opacity="0.19" stroke-width="1"/><path d="M405.50 32.5V383.5" stroke="#8f8f8f" stroke-opacity="0.19" stroke-width="1"/><path d="M416.50 32.5V383.5" stroke="#8f8f8f" stroke-opacity="0.19" stroke-width="1"/><path d="M427.50 32.5V383.5" stroke="#8f8f8f" stroke-opacity="0.19" stroke-width="1"/><path d="M450.50 32.5V383.5" stroke="#8f8f8f" stroke-opacity="0.19" stroke-width="1"/><path d="M462.50 32.5V383.5" stroke="#8f8f8f" stroke-opacity="0.19" stroke-width="1"/><path d="M473.50 32.5V383.5" stroke="#8f8f8f" stroke-opacity="0.19" stroke-width="1"/><path d="M496.50 32.5V383.5" stroke="#8f8f8f" stroke-opacity="0.19" stroke-width="1"/><path d="M508.50 32.5V383.5" stroke="#8f8f8f" stroke-opacity="0.19" stroke-width="1"/><path d="M519.50 32.5V383.5" stroke="#8f8f8f" stroke-opacity="0.19" stroke-width="1"/><path d="M542.50 32.5V383.5" stroke="#8f8f8f" stroke-opacity="0.19" stroke-width="1"/><path d="M554.50 32.5V383.5" stroke="#8f8f8f" stroke-opacity="0.19" stroke-width="1"/><path d="M565.50 32.5V383.5" stroke="#8f8f8f" stroke-opacity="0.19" stroke-width="1"/><path d="M588.50 32.5V383.5" stroke="#8f8f8f" stroke-opacity="0.19" stroke-width="1"/><path d="M599.50 32.5V383.5" stroke="#8f8f8f" stroke-opacity="0.19" stroke-width="1"/><path d="M611.50 32.5V383.5" stroke="#8f8f8f" stroke-opacity="0.19" stroke-width="1"/><path d="M67.5 366.50H617.5" stroke="#8f8f8f" stroke-opacity="0.19" stroke-width="1"/><path d="M67.5 332.50H617.5" stroke="#8f8f8f" stroke-opacity="0.19" stroke-width="1"/><path d="M67.5 298.50H617.5" stroke="#8f8f8f" stroke-opacity="0.19" stroke-width="1"/><path d="M67.5 264.50H617.5" stroke="#8f8f8f" stroke-opacity="0.19" stroke-width="1"/><path d="M67.5 230.50H617.5" stroke="#8f8f8f" stroke-opacity="0.19" stroke-width="1"/><path d="M67.5 196.50H617.5" stroke="#8f8f8f" stroke-opacity="0.19" stroke-width="1"/><path d="M67.5 162.50H617.5" stroke="#8f8f8f" stroke-opacity="0.19" stroke-width="1"/><path d="M67.5 128.50H617.5" stroke="#8f8f8f" stroke-opacity="0.19" stroke-width="1"/><path d="M67.5 94.50H617.5" stroke="#8f8f8f" stroke-opacity="0.19" stroke-width="1"/><path d="M67.5 60.50H617.5" stroke="#8f8f8f" stroke-opacity="0.19" stroke-width="1"/><path d="M72.50 30.5V385.5" stroke="#de4f4f" stroke-opacity="0.30" stroke-width="1"/><path d="M118.50 30.5V385.5" stroke="#de4f4f" stroke-opacity="0.30" stroke-width="1"/><path d="M164.50 30.5V385.5" stroke="#de4f4f" stroke-opacity="0.30" stroke-width="1"/><path d="M210.50 30.5V385.5" stroke="#de4f4f" stroke-opacity="0.30" stroke-width="1"/><path d="M256.50 30.5V385.5" stroke="#de4f4f" stroke-opacity="0.30" stroke-width="1"/><path d="M301.50 30.5V385.5" stroke="#de4f4f" stroke-opacity="0.30" stroke-width="1"/><path d="M347.50 30.5V385.5" stroke="#de4f4f" stroke-opacity="0.30" stroke-width="1"/><path d="M393.50 30.5V385.5" stroke="#de4f4f" stroke-opacity="0.30" stroke-width="1"/><path d="M439.50 30.5V385.5" stroke="#de4f4f" stroke-opacity="0.30" stroke-width="1"/><path d="M485.50 30.5V385.5" stroke="#de4f4f" stroke-opacity="0.30" stroke-width="1"/><path d="M531.50 30.5V385.5" stroke="#de4f4f" stroke-opacity="0.30" stroke-width="1"/><path d="M576.50 30.5V385.5" stroke="#de4f4f" stroke-opacity="0.30" stroke-width="1"/><path d="M65.5 383.50H619.5" stroke="#de4f4f" stroke-opacity="0.30" stroke-width="1"/><path d="M65.5 349.50H619.5" stroke="#de4f4f" stroke-opacity="0.30" stroke-width="1"/><path d="M65.5 315.50H619.5" stroke="#de4f4f" stroke-opacity="0.30" stroke-width="1"/><path d="M65.5 281.50H619.5" stroke="#de4f4f" stroke-opacity="0.30" stroke-width="1"/><path d="M65.5 247.50H619.5" stroke="#de4f4f" stroke-opacity="0.30" stroke-width="1"/><path d="M65.5 213.50H619.5" stroke="#de4f4f" stroke-opacity="0.30" stroke-width="1"/><path d="M65.5 179.50H619.5" stroke="#de4f4f" stroke-opacity="0.30" stroke-width="1"/><path d="M65.5 145.50H619.5" stroke="#de4f4f" stroke-opacity="0.30" stroke-width="1"/><path d="M65.5 111.50H619.5" stroke="#de4f4f" stroke-opacity="0.30" stroke-width="1"/><path d="M65.5 77.50H619.5" stroke="#de4f4f" stroke-opacity="0.30" stroke-width="1"/><path d="M65.5 43.50H619.5" stroke="#de4f4f" stroke-opacity="0.30" stroke-width="1"/></g>
<path d="M63.5 383.5H619.5" stroke="#1f1f1f" stroke-width="1" stroke-opacity="0.62"/>
<path d="M67.5 387.5V30.5" stroke="#1f1f1f" stroke-width="1" stroke-opacity="0.62"/>
<path d="M617.5 387.5V30.5" stroke="#1f1f1f" stroke-width="1" stroke-opacity="0.62"/>
<path d="M619 381L624.4 383.5L619 386Z" fill="#7f1f1f"/>
<path d="M64.9 31.2L67.5 25.9L70.1 31.2Z" fill="#7f1f1f"/>
<path d="M614.9 31.2L617.5 25.9L620.1 31.2Z" fill="#7f1f1f"/>
<text class="t" x="161.5" y="21">Temperaturverlauf und Fuellstand am: 25.01.2024</text>
<text class="a" x="60.6" y="387.1" text-anchor="end">0</text>
<text class="a" x="654.6" y="387.1" text-anchor="end">0</text>
<text class="a" x="60.6" y="353.1" text-anchor="end">10</text>
<text class="a" x="654.6" y="353.1" text-anchor="end">10</text>
<text class="a" x="60.6" y="319.1" text-anchor="end">20</text>
<text class="a" x="654.6" y="319.1" text-anchor="end">20</text>
<text class="a" x="60.6" y="285.1" text-anchor="end">30</text>
<text class="a" x="654.6" y="285.1" text-anchor="end">30</text>
<text class="a" x="60.6" y="251.1" text-anchor="end">40</text>
<text class="a" x="654.6" y="251.1" text-anchor="end">40</text>
<text class="a" x="60.6" y="217.1" text-anchor="end">50</text>
<text class="a" x="654.6" y="217.1" text-anchor="end">50</text>
<text class="a" x="60.6" y="183.1" text-anchor="end">60</text>
<text class="a" x="654.6" y="183.1" text-anchor="end">60</text>
<text class="a" x="60.6" y="149.1" text-anchor="end">70</text>
<text class="a" x="654.6" y="149.1" text-anchor="end">70</text>
<text class="a" x="60.6" y="115.1" text-anchor="end">80</text>
<text class="a" x="654.6" y="115.1" text-anchor="end">80</text>
<text class="a" x="60.6" y="81.1" text-anchor="end">90</text>
<text class="a" x="654.6" y="81.1" text-anchor="end">90</text>
<text class="a" x="60.6" y="47.1" text-anchor="end">100</text>
<text class="a" x="654.6" y="47.1" text-anchor="end">100</text>
<text class="a" x="72.8" y="397.7" text-anchor="middle">Thu 00:00</text>
<text class="a" x="210.2" y="397.7" text-anchor="middle">Thu 06:00</text>
<text class="a" x="347.8" y="397.7" text-anchor="middle">Thu 12:00</text>
<text class="a" x="485.2" y="397.7" text-anchor="middle">Thu 18:00</text>
<text class="l" transform="translate(18 211) rotate(-90)">C</text>
<text class="w" transform="translate(685.9 7) rotate(90)">RRDTOOL / TOBI OETIKER</text>
<rect x="16.5" y="407.3" width="8.1" height="8.1" fill="#ff0000" stroke="#000" stroke-width="1"/>
<text class="l" x="30.0" y="415.0" xml:space="preserve">VL Kessel</text>
<rect x="114.8" y="407.3" width="8.1" height="8.1" fill="#000080" stroke="#000" stroke-width="1"/>
<text class="l" x="128.3" y="415.0" xml:space="preserve">RL Kessel</text>
<rect x="219.7" y="407.3" width="8.1" height="8.1" fill="#ff80a0" stroke="#000" stroke-width="1"/>
<text class="l" x="233.2" y="415.0" xml:space="preserve">VL Heizung</text>
<rect x="338.3" y="407.3" width="8.1" height="8.1" fill="#0000ff" stroke="#000" stroke-width="1"/>
<text class="l" x="351.8" y="415.0" xml:space="preserve">RL Heizung</text>
<rect x="471.4" y="407.3" width="8.1" height="8.1" fill="#b00000" stroke="#000" stroke-width="1"/>
<text class="l" x="484.9" y="415.0" xml:space="preserve">Puffer Oben</text>
<rect x="583.8" y="407.3" width="8.1" height="8.1" fill="#900090" stroke="#000" stroke-width="1"/>
<text class="l" x="597.3" y="415.0" xml:space="preserve">Puffer Mitte</text>
<rect x="16.5" y="421.3" width="8.1" height="8.1" fill="#ff00ff" stroke="#000" stroke-width="1"/>
<text class="l" x="29.8" y="429.0" xml:space="preserve">Luftfeuchte</text>
<rect x="124.9" y="421.3" width="8.1" height="8.1" fill="#0000ff" stroke="#000" stroke-width="1"/>
<text class="l" x="138.2" y="429.0" xml:space="preserve">AT&gt;5C, FS AUS</text>
<rect x="246.8" y="421.3" width="8.1" height="8.1" fill="#ff00ff" stroke="#000" stroke-width="1"/>
<text class="l" x="260.1" y="429.0" xml:space="preserve">AT&lt;2C, FS EIN</text>
<rect x="368.4" y="421.3" width="8.1" height="8.1" fill="#808080" stroke="#000" stroke-width="1"/>
<text class="l" x="381.7" y="429.0" xml:space="preserve">Kessel-P AUS</text>
<rect x="483.4" y="421.3" width="8.1" height="8.1" fill="#d8d800" stroke="#000" stroke-width="1"/>
<text class="l" x="496.7" y="429.0" xml:space="preserve">Kessel-P EIN</text>
<rect x="598.8" y="421.3" width="8.1" height="8.1" fill="#ff0000" stroke="#000" stroke-width="1"/>
<text class="l" x="612.1" y="429.0" xml:space="preserve">Heiz-P AUS</text>
<rect x="16.5" y="435.3" width="8.1" height="8.1" fill="#00ff00" stroke="#000" stroke-width="1"/>
<text class="l" x="30.0" y="443.0" xml:space="preserve">Heiz-P EIN</text>
<text class="l" x="147.0" y="443.0" xml:space="preserve">akt.rH: 0.00 C um 23:45</text>
<text class="l" x="355.0" y="443.0" xml:space="preserve">akt.AT: 5.62 C um 23:45</text>
<text class="l" x="563.3" y="443.0" xml:space="preserve">min.AT24h: 5.56 C</text>
<text class="l" x="16.5" y="457.0" xml:space="preserve">max.AT24h: 7.62 C</text>
<text class="l" x="151.5" y="457.0" xml:space="preserve">akt.Fuellstand:   54 Prozent um 23:45</text>
</svg></body></html>
